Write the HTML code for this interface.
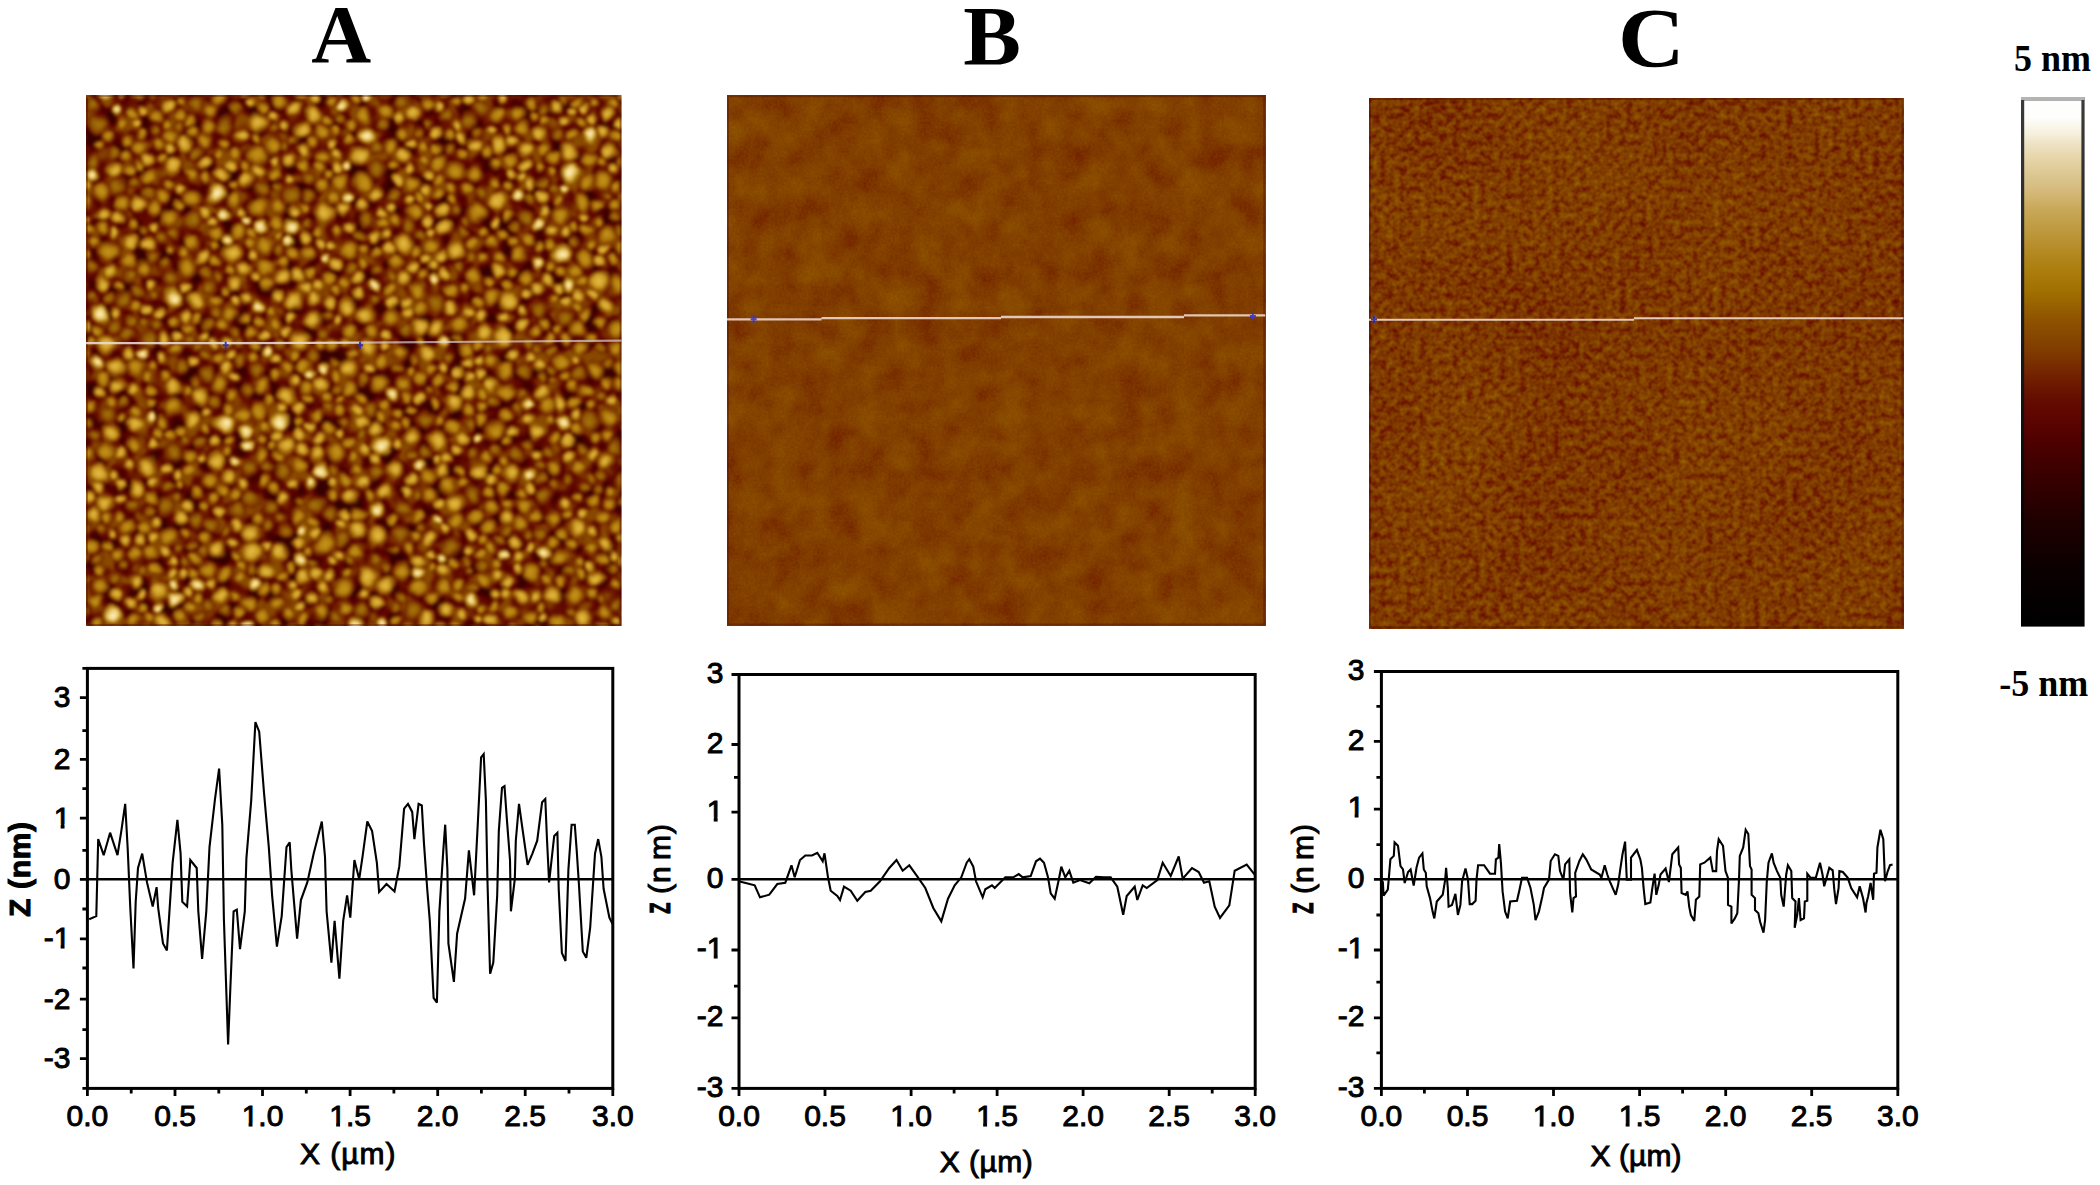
<!DOCTYPE html>
<html lang="en"><head><meta charset="utf-8"><title>AFM height images and section profiles</title>
<style>
html,body{margin:0;padding:0;background:#fff;}
body{width:2100px;height:1185px;overflow:hidden;position:relative;}
svg{position:absolute;left:0;top:0;display:block;}
.ser{font-family:"Liberation Serif",serif;font-weight:bold;fill:#000;}
.san{font-family:"Liberation Sans",sans-serif;fill:#000;stroke:#000;}
</style></head><body>
<svg width="2100" height="1185" viewBox="0 0 2100 1185">
<defs>
<linearGradient id="cb" x1="0" y1="0" x2="0" y2="1">
<stop offset="0.000" stop-color="#ffffff"/>
<stop offset="0.035" stop-color="#fefefc"/>
<stop offset="0.067" stop-color="#f6efdc"/>
<stop offset="0.082" stop-color="#efe4c8"/>
<stop offset="0.114" stop-color="#e6d4a8"/>
<stop offset="0.146" stop-color="#dcc690"/>
<stop offset="0.178" stop-color="#d4b878"/>
<stop offset="0.210" stop-color="#c8a858"/>
<stop offset="0.242" stop-color="#c09c44"/>
<stop offset="0.274" stop-color="#b89030"/>
<stop offset="0.306" stop-color="#b08418"/>
<stop offset="0.338" stop-color="#a87a08"/>
<stop offset="0.365" stop-color="#a07000"/>
<stop offset="0.422" stop-color="#8e5200"/>
<stop offset="0.478" stop-color="#803c00"/>
<stop offset="0.500" stop-color="#7a3000"/>
<stop offset="0.535" stop-color="#701c00"/>
<stop offset="0.573" stop-color="#640c00"/>
<stop offset="0.611" stop-color="#5c0400"/>
<stop offset="0.648" stop-color="#500000"/>
<stop offset="0.700" stop-color="#3e0000"/>
<stop offset="0.800" stop-color="#200000"/>
<stop offset="0.900" stop-color="#0a0000"/>
<stop offset="1.000" stop-color="#000000"/>
</linearGradient>
<linearGradient id="cbb" gradientUnits="userSpaceOnUse" x1="0" y1="97" x2="0" y2="627"><stop offset="0" stop-color="#3c3c3c"/><stop offset="0.45" stop-color="#1e1a1a"/><stop offset="0.8" stop-color="#060404"/><stop offset="1" stop-color="#000"/></linearGradient>
<filter id="fb" x="0" y="0" width="1" height="1" color-interpolation-filters="sRGB">
<feTurbulence type="fractalNoise" baseFrequency="0.035" numOctaves="4" seed="4"/>
<feColorMatrix type="matrix" values="0.115 0 0 0 0.473 0.115 0 0 0 0.473 0.115 0 0 0 0.473 0 0 0 0 1" result="n0"/>
<feTurbulence type="fractalNoise" baseFrequency="0.45" numOctaves="1" seed="3"/>
<feColorMatrix type="matrix" values="0.050 0 0 0 0.475 0.050 0 0 0 0.475 0.050 0 0 0 0.475 0 0 0 0 1" result="n1"/>
<feComposite in="n0" in2="n1" operator="arithmetic" k1="0" k2="1" k3="1" k4="-0.5"/>
<feComponentTransfer><feFuncR type="table" tableValues="0.000 0.006 0.012 0.018 0.025 0.031 0.037 0.047 0.061 0.074 0.088 0.101 0.115 0.129 0.148 0.166 0.184 0.203 0.221 0.239 0.260 0.281 0.303 0.323 0.343 0.362 0.375 0.388 0.405 0.425 0.443 0.461 0.478 0.495 0.511 0.526 0.542 0.557 0.576 0.596 0.615 0.634 0.652 0.669 0.684 0.699 0.714 0.730 0.745 0.760 0.776 0.794 0.817 0.837 0.853 0.869 0.888 0.907 0.924 0.944 0.969 0.984 0.996 0.998 1.000"/><feFuncG type="table" tableValues="0.000 0.000 0.000 0.000 0.000 0.000 0.000 0.000 0.000 0.000 0.000 0.000 0.000 0.000 0.000 0.000 0.000 0.000 0.000 0.000 0.000 0.000 0.000 0.003 0.010 0.017 0.030 0.043 0.064 0.090 0.118 0.153 0.188 0.222 0.250 0.274 0.298 0.322 0.354 0.386 0.419 0.447 0.470 0.491 0.510 0.531 0.554 0.577 0.600 0.623 0.646 0.672 0.703 0.732 0.759 0.786 0.812 0.840 0.871 0.905 0.946 0.974 0.996 0.998 1.000"/><feFuncB type="table" tableValues="0.000 0.000 0.000 0.000 0.000 0.000 0.000 0.000 0.000 0.000 0.000 0.000 0.000 0.000 0.000 0.000 0.000 0.000 0.000 0.000 0.000 0.000 0.000 0.000 0.000 0.000 0.000 0.000 0.000 0.000 0.000 0.000 0.000 0.000 0.000 0.000 0.000 0.000 0.000 0.000 0.000 0.007 0.025 0.051 0.081 0.121 0.167 0.209 0.247 0.285 0.324 0.372 0.433 0.489 0.535 0.581 0.626 0.677 0.738 0.805 0.880 0.942 0.989 0.995 1.000"/></feComponentTransfer>
</filter>
<filter id="fc" x="0" y="0" width="1" height="1" color-interpolation-filters="sRGB">
<feTurbulence type="fractalNoise" baseFrequency="0.15" numOctaves="2" seed="11"/>
<feColorMatrix type="matrix" values="0.220 0 0 0 0.409 0.220 0 0 0 0.409 0.220 0 0 0 0.409 0 0 0 0 1" result="n0"/>
<feTurbulence type="fractalNoise" baseFrequency="0.008" numOctaves="2" seed="5"/>
<feColorMatrix type="matrix" values="0.050 0 0 0 0.475 0.050 0 0 0 0.475 0.050 0 0 0 0.475 0 0 0 0 1" result="n1"/>
<feComposite in="n0" in2="n1" operator="arithmetic" k1="0" k2="1" k3="1" k4="-0.5"/>
<feComponentTransfer><feFuncR type="table" tableValues="0.000 0.006 0.012 0.018 0.025 0.031 0.037 0.047 0.061 0.074 0.088 0.101 0.115 0.129 0.148 0.166 0.184 0.203 0.221 0.239 0.260 0.281 0.303 0.323 0.343 0.362 0.375 0.388 0.405 0.425 0.443 0.461 0.478 0.495 0.511 0.526 0.542 0.557 0.576 0.596 0.615 0.634 0.652 0.669 0.684 0.699 0.714 0.730 0.745 0.760 0.776 0.794 0.817 0.837 0.853 0.869 0.888 0.907 0.924 0.944 0.969 0.984 0.996 0.998 1.000"/><feFuncG type="table" tableValues="0.000 0.000 0.000 0.000 0.000 0.000 0.000 0.000 0.000 0.000 0.000 0.000 0.000 0.000 0.000 0.000 0.000 0.000 0.000 0.000 0.000 0.000 0.000 0.003 0.010 0.017 0.030 0.043 0.064 0.090 0.118 0.153 0.188 0.222 0.250 0.274 0.298 0.322 0.354 0.386 0.419 0.447 0.470 0.491 0.510 0.531 0.554 0.577 0.600 0.623 0.646 0.672 0.703 0.732 0.759 0.786 0.812 0.840 0.871 0.905 0.946 0.974 0.996 0.998 1.000"/><feFuncB type="table" tableValues="0.000 0.000 0.000 0.000 0.000 0.000 0.000 0.000 0.000 0.000 0.000 0.000 0.000 0.000 0.000 0.000 0.000 0.000 0.000 0.000 0.000 0.000 0.000 0.000 0.000 0.000 0.000 0.000 0.000 0.000 0.000 0.000 0.000 0.000 0.000 0.000 0.000 0.000 0.000 0.000 0.000 0.007 0.025 0.051 0.081 0.121 0.167 0.209 0.247 0.285 0.324 0.372 0.433 0.489 0.535 0.581 0.626 0.677 0.738 0.805 0.880 0.942 0.989 0.995 1.000"/></feComponentTransfer>
</filter>
<radialGradient id="gd"><stop offset="0" stop-color="#a8780c"/><stop offset="0.45" stop-color="#925a04"/><stop offset="0.8" stop-color="#762800" stop-opacity="0.8"/><stop offset="1" stop-color="#762800" stop-opacity="0"/></radialGradient><radialGradient id="gn"><stop offset="0" stop-color="#c8961e"/><stop offset="0.45" stop-color="#b07c0c"/><stop offset="0.8" stop-color="#823e00" stop-opacity="0.8"/><stop offset="1" stop-color="#823e00" stop-opacity="0"/></radialGradient><radialGradient id="gb"><stop offset="0" stop-color="#e8be48"/><stop offset="0.45" stop-color="#cc9c24"/><stop offset="0.8" stop-color="#8e5200" stop-opacity="0.8"/><stop offset="1" stop-color="#8e5200" stop-opacity="0"/></radialGradient><radialGradient id="gw"><stop offset="0" stop-color="#fff6d2"/><stop offset="0.45" stop-color="#ecc864"/><stop offset="0.8" stop-color="#a07000" stop-opacity="0.8"/><stop offset="1" stop-color="#a07000" stop-opacity="0"/></radialGradient>
<filter id="fabg" x="0" y="0" width="1" height="1" color-interpolation-filters="sRGB"><feTurbulence type="fractalNoise" baseFrequency="0.06" numOctaves="2" seed="9"/><feColorMatrix type="matrix" values="2.4 0 0 0 -0.7 2.4 0 0 0 -0.7 2.4 0 0 0 -0.7 0 0 0 0 1"/><feComponentTransfer><feFuncR type="table" tableValues="0.208 0.229 0.252 0.276 0.301 0.325 0.348 0.367 0.382 0.400 0.422 0.444 0.464 0.484 0.504 0.521 0.539"/><feFuncG type="table" tableValues="0.000 0.000 0.000 0.000 0.000 0.004 0.011 0.022 0.037 0.057 0.087 0.120 0.160 0.200 0.238 0.266 0.294"/><feFuncB type="table" tableValues="0.000 0.000 0.000 0.000 0.000 0.000 0.000 0.000 0.000 0.000 0.000 0.000 0.000 0.000 0.000 0.000 0.000"/></feComponentTransfer></filter>
<filter id="fa" filterUnits="userSpaceOnUse" x="66" y="75" width="575.5" height="571" color-interpolation-filters="sRGB"><feTurbulence type="fractalNoise" baseFrequency="0.05" numOctaves="2" seed="5" result="t"/><feDisplacementMap in="SourceGraphic" in2="t" scale="9" xChannelSelector="R" yChannelSelector="G"/><feGaussianBlur stdDeviation="1.7"/></filter>
<clipPath id="ca"><rect x="86" y="95" width="535.5" height="531"/></clipPath>
</defs>
<rect x="0" y="0" width="2100" height="1185" fill="#fff"/>
<text class="ser" x="341.2" y="62.2" font-size="83" text-anchor="middle">A</text>
<text class="ser" transform="translate(992 65.3) scale(1.03 1)" font-size="84" text-anchor="middle">B</text>
<text class="ser" transform="translate(1651.3 67.2) scale(1.1 1)" font-size="84" text-anchor="middle">C</text>
<g clip-path="url(#ca)"><g filter="url(#fa)"><rect x="66" y="75" width="575.5" height="571" fill="#642400" filter="url(#fabg)"/>
<circle cx="499" cy="86" r="8.5" fill="url(#gd)"/><circle cx="211" cy="524" r="8.3" fill="url(#gd)"/><circle cx="376" cy="559" r="7.3" fill="url(#gd)"/><circle cx="361" cy="610" r="9.3" fill="url(#gd)"/><circle cx="525" cy="371" r="9.2" fill="url(#gd)"/><circle cx="393" cy="195" r="8.9" fill="url(#gd)"/><circle cx="200" cy="442" r="8.2" fill="url(#gd)"/><circle cx="307" cy="224" r="6.3" fill="url(#gd)"/><circle cx="240" cy="360" r="7.8" fill="url(#gd)"/><circle cx="451" cy="547" r="11.7" fill="url(#gd)"/><circle cx="479" cy="132" r="7.0" fill="url(#gd)"/><circle cx="412" cy="611" r="11.4" fill="url(#gd)"/><circle cx="98" cy="125" r="11.2" fill="url(#gd)"/><circle cx="625" cy="317" r="6.7" fill="url(#gd)"/><circle cx="382" cy="124" r="6.5" fill="url(#gd)"/><circle cx="350" cy="560" r="6.9" fill="url(#gd)"/><circle cx="543" cy="496" r="10.1" fill="url(#gd)"/><circle cx="473" cy="453" r="7.4" fill="url(#gd)"/><circle cx="165" cy="507" r="11.4" fill="url(#gd)"/><circle cx="249" cy="467" r="11.1" fill="url(#gd)"/><circle cx="282" cy="471" r="10.4" fill="url(#gd)"/><circle cx="168" cy="487" r="6.4" fill="url(#gd)"/><circle cx="425" cy="419" r="11.0" fill="url(#gd)"/><circle cx="322" cy="333" r="7.7" fill="url(#gd)"/><circle cx="540" cy="310" r="10.4" fill="url(#gd)"/><circle cx="78" cy="299" r="8.4" fill="url(#gd)"/><circle cx="378" cy="169" r="11.0" fill="url(#gd)"/><circle cx="225" cy="126" r="11.0" fill="url(#gd)"/><circle cx="316" cy="505" r="10.7" fill="url(#gd)"/><circle cx="107" cy="414" r="11.4" fill="url(#gd)"/><circle cx="196" cy="104" r="10.1" fill="url(#gd)"/><circle cx="445" cy="116" r="8.1" fill="url(#gd)"/><circle cx="148" cy="340" r="11.1" fill="url(#gd)"/><circle cx="543" cy="109" r="7.5" fill="url(#gd)"/><circle cx="565" cy="319" r="9.9" fill="url(#gd)"/><circle cx="472" cy="495" r="10.3" fill="url(#gd)"/><circle cx="528" cy="344" r="8.1" fill="url(#gd)"/><circle cx="469" cy="571" r="6.3" fill="url(#gd)"/><circle cx="529" cy="444" r="7.7" fill="url(#gd)"/><circle cx="518" cy="407" r="6.4" fill="url(#gd)"/><circle cx="449" cy="150" r="7.5" fill="url(#gd)"/><circle cx="124" cy="300" r="9.9" fill="url(#gd)"/><circle cx="462" cy="232" r="7.2" fill="url(#gd)"/><circle cx="280" cy="344" r="7.9" fill="url(#gd)"/><circle cx="350" cy="267" r="6.8" fill="url(#gd)"/><circle cx="375" cy="472" r="9.2" fill="url(#gd)"/><circle cx="456" cy="210" r="7.1" fill="url(#gd)"/><circle cx="418" cy="132" r="7.2" fill="url(#gd)"/><circle cx="93" cy="162" r="8.2" fill="url(#gd)"/><circle cx="331" cy="514" r="9.5" fill="url(#gd)"/><circle cx="525" cy="217" r="9.2" fill="url(#gd)"/><circle cx="615" cy="447" r="10.7" fill="url(#gd)"/><circle cx="285" cy="145" r="6.3" fill="url(#gd)"/><circle cx="117" cy="186" r="10.6" fill="url(#gd)"/><circle cx="375" cy="300" r="6.3" fill="url(#gd)"/><circle cx="308" cy="177" r="8.2" fill="url(#gd)"/><circle cx="292" cy="196" r="10.9" fill="url(#gd)"/><circle cx="218" cy="277" r="7.5" fill="url(#gd)"/><circle cx="344" cy="423" r="7.5" fill="url(#gd)"/><circle cx="182" cy="366" r="9.0" fill="url(#gd)"/><circle cx="235" cy="109" r="8.8" fill="url(#gd)"/><circle cx="435" cy="302" r="11.5" fill="url(#gd)"/><circle cx="84" cy="582" r="7.9" fill="url(#gd)"/><circle cx="251" cy="498" r="11.4" fill="url(#gd)"/><circle cx="383" cy="90" r="10.6" fill="url(#gd)"/><circle cx="261" cy="95" r="6.3" fill="url(#gd)"/><circle cx="424" cy="452" r="7.9" fill="url(#gd)"/><circle cx="193" cy="221" r="11.1" fill="url(#gd)"/><circle cx="80" cy="139" r="6.8" fill="url(#gd)"/><circle cx="391" cy="634" r="9.5" fill="url(#gd)"/><circle cx="247" cy="390" r="8.4" fill="url(#gd)"/><circle cx="334" cy="365" r="6.9" fill="url(#gd)"/><circle cx="488" cy="348" r="6.9" fill="url(#gd)"/><circle cx="617" cy="604" r="7.2" fill="url(#gd)"/><circle cx="569" cy="481" r="7.1" fill="url(#gd)"/><circle cx="475" cy="633" r="9.0" fill="url(#gd)"/><circle cx="529" cy="536" r="6.3" fill="url(#gd)"/><circle cx="329" cy="407" r="7.0" fill="url(#gd)"/><circle cx="370" cy="410" r="10.0" fill="url(#gd)"/><circle cx="557" cy="134" r="8.0" fill="url(#gd)"/><circle cx="88" cy="422" r="7.6" fill="url(#gd)"/><circle cx="196" cy="520" r="10.1" fill="url(#gd)"/><circle cx="153" cy="94" r="6.8" fill="url(#gd)"/><circle cx="403" cy="508" r="11.1" fill="url(#gd)"/><circle cx="360" cy="235" r="7.9" fill="url(#gd)"/><circle cx="237" cy="510" r="11.2" fill="url(#gd)"/><circle cx="124" cy="565" r="6.4" fill="url(#gd)"/><circle cx="192" cy="546" r="7.3" fill="url(#gd)"/><circle cx="127" cy="334" r="9.1" fill="url(#gd)"/><circle cx="549" cy="451" r="7.1" fill="url(#gd)"/><circle cx="554" cy="381" r="6.3" fill="url(#gd)"/><circle cx="552" cy="351" r="6.9" fill="url(#gd)"/><circle cx="129" cy="276" r="8.9" fill="url(#gd)"/><circle cx="600" cy="395" r="7.0" fill="url(#gd)"/><circle cx="225" cy="532" r="6.5" fill="url(#gd)"/><circle cx="493" cy="401" r="8.1" fill="url(#gd)"/><circle cx="602" cy="599" r="6.3" fill="url(#gd)"/><circle cx="543" cy="183" r="6.8" fill="url(#gd)"/><circle cx="590" cy="421" r="12.2" fill="url(#gd)"/><circle cx="257" cy="370" r="9.5" fill="url(#gd)"/><circle cx="115" cy="577" r="7.9" fill="url(#gd)"/><circle cx="468" cy="424" r="6.9" fill="url(#gd)"/><circle cx="148" cy="631" r="8.9" fill="url(#gd)"/><circle cx="285" cy="530" r="9.1" fill="url(#gd)"/><circle cx="132" cy="506" r="8.5" fill="url(#gd)"/><circle cx="239" cy="344" r="8.0" fill="url(#gd)"/><circle cx="313" cy="563" r="6.3" fill="url(#gd)"/><circle cx="517" cy="455" r="8.6" fill="url(#gd)"/><circle cx="79" cy="265" r="6.4" fill="url(#gd)"/><circle cx="506" cy="530" r="7.7" fill="url(#gd)"/><circle cx="78" cy="164" r="7.4" fill="url(#gd)"/><circle cx="424" cy="88" r="11.7" fill="url(#gd)"/><circle cx="366" cy="219" r="8.5" fill="url(#gd)"/><circle cx="225" cy="610" r="7.1" fill="url(#gd)"/><circle cx="82" cy="529" r="10.5" fill="url(#gd)"/><circle cx="540" cy="535" r="7.2" fill="url(#gd)"/><circle cx="574" cy="242" r="7.0" fill="url(#gd)"/><circle cx="209" cy="606" r="9.1" fill="url(#gd)"/><circle cx="153" cy="257" r="7.7" fill="url(#gd)"/><circle cx="180" cy="547" r="6.3" fill="url(#gd)"/><circle cx="460" cy="267" r="6.8" fill="url(#gd)"/><circle cx="76" cy="123" r="9.1" fill="url(#gd)"/><circle cx="274" cy="129" r="6.5" fill="url(#gd)"/><circle cx="114" cy="152" r="8.1" fill="url(#gd)"/><circle cx="401" cy="102" r="9.0" fill="url(#gd)"/><circle cx="206" cy="374" r="9.1" fill="url(#gd)"/><circle cx="137" cy="291" r="8.9" fill="url(#gd)"/><circle cx="597" cy="489" r="7.4" fill="url(#gd)"/><circle cx="616" cy="217" r="6.7" fill="url(#gd)"/><circle cx="313" cy="87" r="6.4" fill="url(#gd)"/><circle cx="173" cy="453" r="11.9" fill="url(#gd)"/><circle cx="270" cy="507" r="10.2" fill="url(#gd)"/><circle cx="393" cy="549" r="6.3" fill="url(#gd)"/><circle cx="100" cy="634" r="9.2" fill="url(#gd)"/><circle cx="495" cy="450" r="7.4" fill="url(#gd)"/><circle cx="624" cy="462" r="7.7" fill="url(#gd)"/><circle cx="340" cy="119" r="6.9" fill="url(#gd)"/><circle cx="409" cy="226" r="8.6" fill="url(#gd)"/><circle cx="313" cy="356" r="8.4" fill="url(#gd)"/><circle cx="77" cy="510" r="8.0" fill="url(#gd)"/><circle cx="97" cy="559" r="6.3" fill="url(#gd)"/><circle cx="412" cy="454" r="7.1" fill="url(#gd)"/><circle cx="631" cy="180" r="10.8" fill="url(#gd)"/><circle cx="92" cy="106" r="8.6" fill="url(#gd)"/><circle cx="189" cy="340" r="7.2" fill="url(#gd)"/><circle cx="469" cy="121" r="9.6" fill="url(#gd)"/><circle cx="94" cy="435" r="7.0" fill="url(#gd)"/><circle cx="155" cy="131" r="7.0" fill="url(#gd)"/><circle cx="101" cy="528" r="7.1" fill="url(#gd)"/><circle cx="123" cy="402" r="6.6" fill="url(#gd)"/><circle cx="134" cy="184" r="8.0" fill="url(#gd)"/><circle cx="114" cy="325" r="9.8" fill="url(#gd)"/><circle cx="262" cy="189" r="9.3" fill="url(#gd)"/><circle cx="429" cy="123" r="6.6" fill="url(#gd)"/><circle cx="343" cy="539" r="9.9" fill="url(#gd)"/><circle cx="171" cy="279" r="10.4" fill="url(#gd)"/><circle cx="591" cy="478" r="6.4" fill="url(#gd)"/><circle cx="91" cy="268" r="8.5" fill="url(#gd)"/><circle cx="581" cy="449" r="6.4" fill="url(#gd)"/><circle cx="578" cy="373" r="9.2" fill="url(#gd)"/><circle cx="401" cy="534" r="11.8" fill="url(#gd)"/><circle cx="402" cy="598" r="7.2" fill="url(#gd)"/><circle cx="378" cy="270" r="7.1" fill="url(#gd)"/><circle cx="185" cy="563" r="6.4" fill="url(#gd)"/><circle cx="144" cy="323" r="7.3" fill="url(#gd)"/><circle cx="175" cy="233" r="7.3" fill="url(#gd)"/><circle cx="602" cy="476" r="7.3" fill="url(#gd)"/><circle cx="208" cy="325" r="8.6" fill="url(#gd)"/><circle cx="481" cy="193" r="8.1" fill="url(#gd)"/><circle cx="482" cy="565" r="7.5" fill="url(#gd)"/><circle cx="180" cy="127" r="6.7" fill="url(#gd)"/><circle cx="78" cy="488" r="8.1" fill="url(#gd)"/><circle cx="131" cy="321" r="7.3" fill="url(#gd)"/><circle cx="90" cy="295" r="6.4" fill="url(#gd)"/><circle cx="471" cy="257" r="7.4" fill="url(#gd)"/><circle cx="267" cy="525" r="6.7" fill="url(#gd)"/><circle cx="513" cy="87" r="8.8" fill="url(#gd)"/><circle cx="206" cy="355" r="6.4" fill="url(#gd)"/><circle cx="529" cy="198" r="6.6" fill="url(#gd)"/><circle cx="77" cy="391" r="9.5" fill="url(#gd)"/><circle cx="195" cy="382" r="6.8" fill="url(#gd)"/><circle cx="364" cy="379" r="7.8" fill="url(#gd)"/><circle cx="627" cy="145" r="8.6" fill="url(#gd)"/><circle cx="300" cy="502" r="6.3" fill="url(#gd)"/><circle cx="144" cy="571" r="6.7" fill="url(#gd)"/><circle cx="162" cy="237" r="8.6" fill="url(#gd)"/><circle cx="500" cy="635" r="6.8" fill="url(#gd)"/><circle cx="280" cy="517" r="6.7" fill="url(#gd)"/><circle cx="600" cy="349" r="7.4" fill="url(#gd)"/><circle cx="569" cy="573" r="7.5" fill="url(#gd)"/><circle cx="466" cy="221" r="6.7" fill="url(#gd)"/><circle cx="375" cy="148" r="8.4" fill="url(#gd)"/><circle cx="571" cy="612" r="6.4" fill="url(#gd)"/><circle cx="460" cy="86" r="11.0" fill="url(#gd)"/><circle cx="340" cy="92" r="6.7" fill="url(#gd)"/><circle cx="416" cy="496" r="6.3" fill="url(#gd)"/><circle cx="176" cy="498" r="6.4" fill="url(#gd)"/><circle cx="199" cy="346" r="6.5" fill="url(#gd)"/><circle cx="629" cy="354" r="8.1" fill="url(#gd)"/><circle cx="553" cy="484" r="6.8" fill="url(#gd)"/><circle cx="520" cy="394" r="7.0" fill="url(#gd)"/><circle cx="405" cy="331" r="7.7" fill="url(#gd)"/><circle cx="421" cy="528" r="6.6" fill="url(#gd)"/><circle cx="110" cy="299" r="7.7" fill="url(#gd)"/><circle cx="199" cy="617" r="7.1" fill="url(#gd)"/><circle cx="206" cy="273" r="8.2" fill="url(#gd)"/><circle cx="154" cy="294" r="6.4" fill="url(#gd)"/><circle cx="543" cy="378" r="6.3" fill="url(#gd)"/><circle cx="544" cy="564" r="6.3" fill="url(#gd)"/><circle cx="164" cy="264" r="6.7" fill="url(#gd)"/><circle cx="612" cy="568" r="7.4" fill="url(#gd)"/><circle cx="215" cy="401" r="7.1" fill="url(#gd)"/><circle cx="156" cy="326" r="7.9" fill="url(#gd)"/><circle cx="619" cy="231" r="6.9" fill="url(#gd)"/><circle cx="208" cy="287" r="8.4" fill="url(#gd)"/><circle cx="361" cy="435" r="7.6" fill="url(#gd)"/><circle cx="429" cy="390" r="6.3" fill="url(#gd)"/><circle cx="538" cy="349" r="6.4" fill="url(#gd)"/><circle cx="216" cy="313" r="7.3" fill="url(#gd)"/><circle cx="394" cy="606" r="6.5" fill="url(#gd)"/><circle cx="449" cy="357" r="6.5" fill="url(#gd)"/><circle cx="233" cy="332" r="6.8" fill="url(#gd)"/><circle cx="397" cy="368" r="6.5" fill="url(#gd)"/><circle cx="609" cy="363" r="7.2" fill="url(#gd)"/><circle cx="329" cy="599" r="6.3" fill="url(#gd)"/><circle cx="76" cy="573" r="6.9" fill="url(#gd)"/><circle cx="541" cy="478" r="6.9" fill="url(#gd)"/><circle cx="336" cy="617" r="8.0" fill="url(#gd)"/><circle cx="195" cy="153" r="7.8" fill="url(#gd)"/><circle cx="309" cy="195" r="8.5" fill="url(#gd)"/><circle cx="384" cy="567" r="7.2" fill="url(#gd)"/><circle cx="414" cy="360" r="7.1" fill="url(#gd)"/><circle cx="294" cy="140" r="6.3" fill="url(#gd)"/><circle cx="204" cy="551" r="6.9" fill="url(#gd)"/><circle cx="292" cy="86" r="7.5" fill="url(#gd)"/><circle cx="516" cy="227" r="6.5" fill="url(#gd)"/><circle cx="472" cy="588" r="6.8" fill="url(#gd)"/><circle cx="584" cy="486" r="6.3" fill="url(#gd)"/><circle cx="149" cy="512" r="6.4" fill="url(#gd)"/><circle cx="420" cy="234" r="6.9" fill="url(#gd)"/><circle cx="186" cy="439" r="6.3" fill="url(#gd)"/><circle cx="467" cy="561" r="6.8" fill="url(#gd)"/><circle cx="481" cy="109" r="9.8" fill="url(#gd)"/><circle cx="564" cy="99" r="6.5" fill="url(#gd)"/><circle cx="280" cy="250" r="7.0" fill="url(#gd)"/><circle cx="253" cy="568" r="7.6" fill="url(#gd)"/><circle cx="539" cy="466" r="6.9" fill="url(#gd)"/><circle cx="336" cy="388" r="6.3" fill="url(#gd)"/><circle cx="606" cy="195" r="6.4" fill="url(#gd)"/><circle cx="326" cy="315" r="6.3" fill="url(#gd)"/><circle cx="552" cy="370" r="6.4" fill="url(#gd)"/><circle cx="149" cy="194" r="8.1" fill="url(#gd)"/><circle cx="500" cy="540" r="6.4" fill="url(#gd)"/><circle cx="391" cy="275" r="7.1" fill="url(#gd)"/><circle cx="554" cy="189" r="6.8" fill="url(#gd)"/><circle cx="278" cy="188" r="7.0" fill="url(#gd)"/><circle cx="621" cy="411" r="6.6" fill="url(#gd)"/><circle cx="267" cy="468" r="7.3" fill="url(#gd)"/><circle cx="335" cy="471" r="7.2" fill="url(#gd)"/><circle cx="458" cy="339" r="6.6" fill="url(#gd)"/><circle cx="142" cy="230" r="6.5" fill="url(#gd)"/><circle cx="151" cy="552" r="10.5" fill="url(#gn)"/><circle cx="218" cy="358" r="8.5" fill="url(#gn)"/><circle cx="92" cy="546" r="8.4" fill="url(#gn)"/><circle cx="477" cy="211" r="11.8" fill="url(#gn)"/><circle cx="577" cy="102" r="6.3" fill="url(#gn)"/><circle cx="196" cy="318" r="6.3" fill="url(#gn)"/><circle cx="143" cy="268" r="10.3" fill="url(#gn)"/><circle cx="402" cy="571" r="11.1" fill="url(#gn)"/><circle cx="451" cy="291" r="8.5" fill="url(#gn)"/><circle cx="358" cy="514" r="9.0" fill="url(#gn)"/><circle cx="294" cy="355" r="6.3" fill="url(#gn)"/><circle cx="532" cy="573" r="10.4" fill="url(#gn)"/><circle cx="345" cy="282" r="7.9" fill="url(#gn)"/><circle cx="331" cy="100" r="7.3" fill="url(#gn)"/><circle cx="174" cy="407" r="11.2" fill="url(#gn)"/><circle cx="520" cy="524" r="10.9" fill="url(#gn)"/><circle cx="423" cy="275" r="6.5" fill="url(#gn)"/><circle cx="165" cy="376" r="6.9" fill="url(#gn)"/><circle cx="255" cy="346" r="6.3" fill="url(#gn)"/><circle cx="88" cy="95" r="6.8" fill="url(#gn)"/><circle cx="475" cy="173" r="10.2" fill="url(#gn)"/><circle cx="453" cy="385" r="7.2" fill="url(#gn)"/><circle cx="618" cy="525" r="8.9" fill="url(#gn)"/><circle cx="396" cy="262" r="9.7" fill="url(#gn)"/><circle cx="109" cy="250" r="12.0" fill="url(#gn)"/><circle cx="248" cy="603" r="10.4" fill="url(#gn)"/><circle cx="558" cy="622" r="10.1" fill="url(#gn)"/><circle cx="190" cy="456" r="8.4" fill="url(#gn)"/><circle cx="560" cy="581" r="6.3" fill="url(#gn)"/><circle cx="188" cy="266" r="12.1" fill="url(#gn)"/><circle cx="511" cy="272" r="7.2" fill="url(#gn)"/><circle cx="582" cy="202" r="10.5" fill="url(#gn)"/><circle cx="409" cy="548" r="8.0" fill="url(#gn)"/><circle cx="265" cy="245" r="11.3" fill="url(#gn)"/><circle cx="151" cy="389" r="6.6" fill="url(#gn)"/><circle cx="418" cy="516" r="8.1" fill="url(#gn)"/><circle cx="224" cy="576" r="9.2" fill="url(#gn)"/><circle cx="590" cy="337" r="7.5" fill="url(#gn)"/><circle cx="448" cy="136" r="6.7" fill="url(#gn)"/><circle cx="169" cy="218" r="10.4" fill="url(#gn)"/><circle cx="615" cy="586" r="7.6" fill="url(#gn)"/><circle cx="622" cy="248" r="9.4" fill="url(#gn)"/><circle cx="620" cy="384" r="10.0" fill="url(#gn)"/><circle cx="293" cy="254" r="7.8" fill="url(#gn)"/><circle cx="398" cy="413" r="7.3" fill="url(#gn)"/><circle cx="429" cy="245" r="10.7" fill="url(#gn)"/><circle cx="603" cy="180" r="10.6" fill="url(#gn)"/><circle cx="135" cy="368" r="11.6" fill="url(#gn)"/><circle cx="239" cy="577" r="6.8" fill="url(#gn)"/><circle cx="175" cy="323" r="6.9" fill="url(#gn)"/><circle cx="381" cy="383" r="11.1" fill="url(#gn)"/><circle cx="219" cy="98" r="9.8" fill="url(#gn)"/><circle cx="307" cy="399" r="6.5" fill="url(#gn)"/><circle cx="299" cy="422" r="7.3" fill="url(#gn)"/><circle cx="80" cy="376" r="8.8" fill="url(#gn)"/><circle cx="229" cy="441" r="6.4" fill="url(#gn)"/><circle cx="497" cy="114" r="10.0" fill="url(#gn)"/><circle cx="474" cy="277" r="8.9" fill="url(#gn)"/><circle cx="257" cy="155" r="11.5" fill="url(#gn)"/><circle cx="214" cy="498" r="6.3" fill="url(#gn)"/><circle cx="191" cy="242" r="9.1" fill="url(#gn)"/><circle cx="228" cy="408" r="7.4" fill="url(#gn)"/><circle cx="456" cy="521" r="10.9" fill="url(#gn)"/><circle cx="274" cy="376" r="6.3" fill="url(#gn)"/><circle cx="298" cy="516" r="10.0" fill="url(#gn)"/><circle cx="349" cy="442" r="8.1" fill="url(#gn)"/><circle cx="189" cy="87" r="7.5" fill="url(#gn)"/><circle cx="420" cy="378" r="8.0" fill="url(#gn)"/><circle cx="484" cy="580" r="10.4" fill="url(#gn)"/><circle cx="345" cy="342" r="6.4" fill="url(#gn)"/><circle cx="273" cy="447" r="6.3" fill="url(#gn)"/><circle cx="299" cy="465" r="9.5" fill="url(#gn)"/><circle cx="192" cy="199" r="11.4" fill="url(#gn)"/><circle cx="415" cy="213" r="9.2" fill="url(#gn)"/><circle cx="259" cy="207" r="11.9" fill="url(#gn)"/><circle cx="576" cy="428" r="7.7" fill="url(#gn)"/><circle cx="181" cy="430" r="6.9" fill="url(#gn)"/><circle cx="617" cy="329" r="11.6" fill="url(#gn)"/><circle cx="481" cy="419" r="7.4" fill="url(#gn)"/><circle cx="210" cy="481" r="10.2" fill="url(#gn)"/><circle cx="350" cy="140" r="7.0" fill="url(#gn)"/><circle cx="529" cy="616" r="9.6" fill="url(#gn)"/><circle cx="205" cy="537" r="8.6" fill="url(#gn)"/><circle cx="259" cy="412" r="11.5" fill="url(#gn)"/><circle cx="584" cy="93" r="6.8" fill="url(#gn)"/><circle cx="141" cy="135" r="6.3" fill="url(#gn)"/><circle cx="430" cy="495" r="10.0" fill="url(#gn)"/><circle cx="272" cy="312" r="7.1" fill="url(#gn)"/><circle cx="322" cy="156" r="8.2" fill="url(#gn)"/><circle cx="483" cy="258" r="6.8" fill="url(#gn)"/><circle cx="245" cy="319" r="7.4" fill="url(#gn)"/><circle cx="511" cy="612" r="9.4" fill="url(#gn)"/><circle cx="134" cy="445" r="8.5" fill="url(#gn)"/><circle cx="625" cy="481" r="11.0" fill="url(#gn)"/><circle cx="538" cy="246" r="6.9" fill="url(#gn)"/><circle cx="492" cy="361" r="9.0" fill="url(#gn)"/><circle cx="342" cy="588" r="11.7" fill="url(#gn)"/><circle cx="277" cy="604" r="9.7" fill="url(#gn)"/><circle cx="224" cy="144" r="7.4" fill="url(#gn)"/><circle cx="116" cy="554" r="9.7" fill="url(#gn)"/><circle cx="630" cy="226" r="7.1" fill="url(#gn)"/><circle cx="491" cy="509" r="8.9" fill="url(#gn)"/><circle cx="549" cy="338" r="7.1" fill="url(#gn)"/><circle cx="390" cy="288" r="8.2" fill="url(#gn)"/><circle cx="575" cy="595" r="11.1" fill="url(#gn)"/><circle cx="460" cy="324" r="10.6" fill="url(#gn)"/><circle cx="346" cy="479" r="8.8" fill="url(#gn)"/><circle cx="148" cy="618" r="7.3" fill="url(#gn)"/><circle cx="553" cy="518" r="10.0" fill="url(#gn)"/><circle cx="573" cy="385" r="7.2" fill="url(#gn)"/><circle cx="412" cy="185" r="11.3" fill="url(#gn)"/><circle cx="454" cy="628" r="7.9" fill="url(#gn)"/><circle cx="410" cy="371" r="6.3" fill="url(#gn)"/><circle cx="504" cy="460" r="6.4" fill="url(#gn)"/><circle cx="252" cy="233" r="6.4" fill="url(#gn)"/><circle cx="595" cy="437" r="7.3" fill="url(#gn)"/><circle cx="453" cy="427" r="9.0" fill="url(#gn)"/><circle cx="215" cy="234" r="9.0" fill="url(#gn)"/><circle cx="456" cy="102" r="7.7" fill="url(#gn)"/><circle cx="455" cy="171" r="11.6" fill="url(#gn)"/><circle cx="155" cy="569" r="7.2" fill="url(#gn)"/><circle cx="99" cy="146" r="6.8" fill="url(#gn)"/><circle cx="585" cy="258" r="11.3" fill="url(#gn)"/><circle cx="364" cy="116" r="9.9" fill="url(#gn)"/><circle cx="332" cy="345" r="8.8" fill="url(#gn)"/><circle cx="591" cy="548" r="6.9" fill="url(#gn)"/><circle cx="439" cy="381" r="7.4" fill="url(#gn)"/><circle cx="83" cy="611" r="7.7" fill="url(#gn)"/><circle cx="230" cy="314" r="9.4" fill="url(#gn)"/><circle cx="373" cy="332" r="8.8" fill="url(#gn)"/><circle cx="119" cy="518" r="6.4" fill="url(#gn)"/><circle cx="491" cy="296" r="10.0" fill="url(#gn)"/><circle cx="589" cy="159" r="10.2" fill="url(#gn)"/><circle cx="321" cy="612" r="9.4" fill="url(#gn)"/><circle cx="581" cy="348" r="8.4" fill="url(#gn)"/><circle cx="307" cy="635" r="10.7" fill="url(#gn)"/><circle cx="400" cy="352" r="9.7" fill="url(#gn)"/><circle cx="526" cy="87" r="6.9" fill="url(#gn)"/><circle cx="158" cy="144" r="7.7" fill="url(#gn)"/><circle cx="549" cy="420" r="6.4" fill="url(#gn)"/><circle cx="395" cy="426" r="6.5" fill="url(#gn)"/><circle cx="553" cy="158" r="8.5" fill="url(#gn)"/><circle cx="262" cy="616" r="10.3" fill="url(#gn)"/><circle cx="198" cy="599" r="6.3" fill="url(#gn)"/><circle cx="439" cy="193" r="7.0" fill="url(#gn)"/><circle cx="382" cy="361" r="8.7" fill="url(#gn)"/><circle cx="559" cy="200" r="6.5" fill="url(#gn)"/><circle cx="77" cy="473" r="7.7" fill="url(#gn)"/><circle cx="353" cy="457" r="6.3" fill="url(#gn)"/><circle cx="204" cy="141" r="8.9" fill="url(#gn)"/><circle cx="382" cy="224" r="7.3" fill="url(#gn)"/><circle cx="193" cy="574" r="7.3" fill="url(#gn)"/><circle cx="302" cy="94" r="7.0" fill="url(#gn)"/><circle cx="539" cy="168" r="6.4" fill="url(#gn)"/><circle cx="593" cy="501" r="8.1" fill="url(#gn)"/><circle cx="329" cy="279" r="8.2" fill="url(#gn)"/><circle cx="424" cy="159" r="6.5" fill="url(#gn)"/><circle cx="559" cy="558" r="10.7" fill="url(#gn)"/><circle cx="143" cy="608" r="6.3" fill="url(#gn)"/><circle cx="281" cy="576" r="6.8" fill="url(#gn)"/><circle cx="274" cy="324" r="6.5" fill="url(#gn)"/><circle cx="192" cy="175" r="8.0" fill="url(#gn)"/><circle cx="453" cy="563" r="6.6" fill="url(#gn)"/><circle cx="347" cy="609" r="7.6" fill="url(#gn)"/><circle cx="326" cy="544" r="12.0" fill="url(#gn)"/><circle cx="274" cy="174" r="8.5" fill="url(#gn)"/><circle cx="513" cy="241" r="6.9" fill="url(#gn)"/><circle cx="322" cy="185" r="8.5" fill="url(#gn)"/><circle cx="133" cy="114" r="6.9" fill="url(#gn)"/><circle cx="84" cy="353" r="8.5" fill="url(#gn)"/><circle cx="348" cy="331" r="8.6" fill="url(#gn)"/><circle cx="267" cy="284" r="9.4" fill="url(#gn)"/><circle cx="550" cy="244" r="7.2" fill="url(#gn)"/><circle cx="609" cy="418" r="10.7" fill="url(#gn)"/><circle cx="495" cy="164" r="8.4" fill="url(#gn)"/><circle cx="137" cy="306" r="6.6" fill="url(#gn)"/><circle cx="190" cy="121" r="7.3" fill="url(#gn)"/><circle cx="88" cy="454" r="8.6" fill="url(#gn)"/><circle cx="554" cy="468" r="9.9" fill="url(#gn)"/><circle cx="319" cy="167" r="6.3" fill="url(#gn)"/><circle cx="615" cy="348" r="9.0" fill="url(#gn)"/><circle cx="377" cy="252" r="6.7" fill="url(#gn)"/><circle cx="390" cy="147" r="10.0" fill="url(#gn)"/><circle cx="180" cy="116" r="6.7" fill="url(#gn)"/><circle cx="151" cy="403" r="7.4" fill="url(#gn)"/><circle cx="629" cy="580" r="10.8" fill="url(#gn)"/><circle cx="495" cy="430" r="11.8" fill="url(#gn)"/><circle cx="443" cy="587" r="10.6" fill="url(#gn)"/><circle cx="91" cy="406" r="6.8" fill="url(#gn)"/><circle cx="411" cy="630" r="9.7" fill="url(#gn)"/><circle cx="122" cy="124" r="7.3" fill="url(#gn)"/><circle cx="541" cy="608" r="6.3" fill="url(#gn)"/><circle cx="220" cy="384" r="11.3" fill="url(#gn)"/><circle cx="176" cy="349" r="8.2" fill="url(#gn)"/><circle cx="101" cy="192" r="10.2" fill="url(#gn)"/><circle cx="340" cy="182" r="10.9" fill="url(#gn)"/><circle cx="523" cy="127" r="8.3" fill="url(#gn)"/><circle cx="148" cy="177" r="10.0" fill="url(#gn)"/><circle cx="289" cy="614" r="7.4" fill="url(#gn)"/><circle cx="594" cy="104" r="6.3" fill="url(#gn)"/><circle cx="561" cy="216" r="12.0" fill="url(#gn)"/><circle cx="628" cy="213" r="8.2" fill="url(#gn)"/><circle cx="492" cy="242" r="7.9" fill="url(#gn)"/><circle cx="318" cy="232" r="6.9" fill="url(#gn)"/><circle cx="396" cy="620" r="6.8" fill="url(#gn)"/><circle cx="190" cy="607" r="7.3" fill="url(#gn)"/><circle cx="418" cy="587" r="10.2" fill="url(#gn)"/><circle cx="586" cy="391" r="8.6" fill="url(#gn)"/><circle cx="587" cy="230" r="8.1" fill="url(#gn)"/><circle cx="579" cy="468" r="8.5" fill="url(#gn)"/><circle cx="522" cy="492" r="6.9" fill="url(#gn)"/><circle cx="602" cy="517" r="8.6" fill="url(#gn)"/><circle cx="154" cy="208" r="9.6" fill="url(#gn)"/><circle cx="423" cy="147" r="6.4" fill="url(#gn)"/><circle cx="264" cy="267" r="10.8" fill="url(#gn)"/><circle cx="490" cy="528" r="9.6" fill="url(#gn)"/><circle cx="631" cy="269" r="9.4" fill="url(#gn)"/><circle cx="158" cy="433" r="8.0" fill="url(#gn)"/><circle cx="79" cy="242" r="11.0" fill="url(#gn)"/><circle cx="163" cy="196" r="8.7" fill="url(#gn)"/><circle cx="233" cy="200" r="9.5" fill="url(#gn)"/><circle cx="189" cy="470" r="7.7" fill="url(#gn)"/><circle cx="275" cy="624" r="7.1" fill="url(#gn)"/><circle cx="597" cy="206" r="7.8" fill="url(#gn)"/><circle cx="162" cy="158" r="6.8" fill="url(#gn)"/><circle cx="120" cy="630" r="6.3" fill="url(#gn)"/><circle cx="178" cy="205" r="6.6" fill="url(#gn)"/><circle cx="144" cy="528" r="9.2" fill="url(#gn)"/><circle cx="216" cy="301" r="8.0" fill="url(#gn)"/><circle cx="468" cy="189" r="7.9" fill="url(#gn)"/><circle cx="333" cy="131" r="6.3" fill="url(#gn)"/><circle cx="272" cy="145" r="10.3" fill="url(#gn)"/><circle cx="505" cy="371" r="10.9" fill="url(#gn)"/><circle cx="392" cy="317" r="11.0" fill="url(#gn)"/><circle cx="553" cy="299" r="6.7" fill="url(#gn)"/><circle cx="606" cy="236" r="10.7" fill="url(#gn)"/><circle cx="596" cy="371" r="10.7" fill="url(#gn)"/><circle cx="197" cy="493" r="6.9" fill="url(#gn)"/><circle cx="536" cy="516" r="8.3" fill="url(#gn)"/><circle cx="572" cy="136" r="6.8" fill="url(#gn)"/><circle cx="250" cy="244" r="6.8" fill="url(#gn)"/><circle cx="276" cy="222" r="7.6" fill="url(#gn)"/><circle cx="303" cy="366" r="8.6" fill="url(#gn)"/><circle cx="465" cy="350" r="8.9" fill="url(#gn)"/><circle cx="321" cy="132" r="8.7" fill="url(#gn)"/><circle cx="517" cy="113" r="8.8" fill="url(#gn)"/><circle cx="334" cy="198" r="7.6" fill="url(#gn)"/><circle cx="95" cy="600" r="8.7" fill="url(#gn)"/><circle cx="518" cy="254" r="9.7" fill="url(#gn)"/><circle cx="580" cy="562" r="6.4" fill="url(#gn)"/><circle cx="428" cy="476" r="9.5" fill="url(#gn)"/><circle cx="128" cy="260" r="9.7" fill="url(#gn)"/><circle cx="336" cy="634" r="9.2" fill="url(#gn)"/><circle cx="317" cy="416" r="8.1" fill="url(#gn)"/><circle cx="483" cy="231" r="6.4" fill="url(#gn)"/><circle cx="509" cy="216" r="7.1" fill="url(#gn)"/><circle cx="459" cy="584" r="6.9" fill="url(#gn)"/><circle cx="536" cy="629" r="6.4" fill="url(#gn)"/><circle cx="264" cy="590" r="8.1" fill="url(#gn)"/><circle cx="585" cy="315" r="8.1" fill="url(#gn)"/><circle cx="554" cy="438" r="7.3" fill="url(#gn)"/><circle cx="440" cy="421" r="7.2" fill="url(#gn)"/><circle cx="619" cy="285" r="11.7" fill="url(#gn)"/><circle cx="77" cy="86" r="7.0" fill="url(#gn)"/><circle cx="122" cy="203" r="9.5" fill="url(#gn)"/><circle cx="350" cy="389" r="10.5" fill="url(#gn)"/><circle cx="97" cy="622" r="7.1" fill="url(#gn)"/><circle cx="421" cy="342" r="6.6" fill="url(#gn)"/><circle cx="170" cy="184" r="7.0" fill="url(#gn)"/><circle cx="265" cy="481" r="6.6" fill="url(#gn)"/><circle cx="111" cy="400" r="7.2" fill="url(#gn)"/><circle cx="363" cy="263" r="6.9" fill="url(#gn)"/><circle cx="448" cy="486" r="10.8" fill="url(#gn)"/><circle cx="411" cy="409" r="6.5" fill="url(#gn)"/><circle cx="108" cy="137" r="7.7" fill="url(#gn)"/><circle cx="168" cy="251" r="6.5" fill="url(#gn)"/><circle cx="209" cy="126" r="9.0" fill="url(#gn)"/><circle cx="255" cy="139" r="6.6" fill="url(#gn)"/><circle cx="168" cy="124" r="6.3" fill="url(#gn)"/><circle cx="77" cy="413" r="6.4" fill="url(#gn)"/><circle cx="574" cy="271" r="8.5" fill="url(#gn)"/><circle cx="546" cy="406" r="9.4" fill="url(#gn)"/><circle cx="483" cy="407" r="6.8" fill="url(#gn)"/><circle cx="551" cy="634" r="7.9" fill="url(#gn)"/><circle cx="181" cy="616" r="8.0" fill="url(#gn)"/><circle cx="357" cy="551" r="7.9" fill="url(#gn)"/><circle cx="530" cy="103" r="8.2" fill="url(#gn)"/><circle cx="600" cy="322" r="6.6" fill="url(#gn)"/><circle cx="313" cy="523" r="7.2" fill="url(#gn)"/><circle cx="126" cy="156" r="7.9" fill="url(#gn)"/><circle cx="528" cy="238" r="7.9" fill="url(#gn)"/><circle cx="338" cy="232" r="6.9" fill="url(#gn)"/><circle cx="77" cy="151" r="7.1" fill="url(#gn)"/><circle cx="629" cy="302" r="6.6" fill="url(#gn)"/><circle cx="157" cy="116" r="9.1" fill="url(#gn)"/><circle cx="478" cy="302" r="6.8" fill="url(#gn)"/><circle cx="307" cy="387" r="8.5" fill="url(#gn)"/><circle cx="506" cy="392" r="9.6" fill="url(#gn)"/><circle cx="625" cy="161" r="9.9" fill="url(#gn)"/><circle cx="185" cy="533" r="6.9" fill="url(#gn)"/><circle cx="102" cy="228" r="7.8" fill="url(#gn)"/><circle cx="207" cy="569" r="10.3" fill="url(#gn)"/><circle cx="613" cy="261" r="7.0" fill="url(#gn)"/><circle cx="524" cy="506" r="8.7" fill="url(#gn)"/><circle cx="552" cy="267" r="7.2" fill="url(#gn)"/><circle cx="452" cy="190" r="7.2" fill="url(#gn)"/><circle cx="101" cy="586" r="9.9" fill="url(#gn)"/><circle cx="168" cy="536" r="11.1" fill="url(#gn)"/><circle cx="336" cy="453" r="11.6" fill="url(#gn)"/><circle cx="444" cy="91" r="7.9" fill="url(#gn)"/><circle cx="363" cy="182" r="11.2" fill="url(#gn)"/><circle cx="460" cy="471" r="6.7" fill="url(#gn)"/><circle cx="405" cy="89" r="8.0" fill="url(#gn)"/><circle cx="513" cy="630" r="8.5" fill="url(#gn)"/><circle cx="331" cy="495" r="8.0" fill="url(#gn)"/><circle cx="482" cy="95" r="8.2" fill="url(#gn)"/><circle cx="269" cy="87" r="7.8" fill="url(#gn)"/><circle cx="526" cy="279" r="9.6" fill="url(#gn)"/><circle cx="476" cy="517" r="9.2" fill="url(#gn)"/><circle cx="612" cy="104" r="6.8" fill="url(#gn)"/><circle cx="242" cy="414" r="9.9" fill="url(#gn)"/><circle cx="434" cy="403" r="6.3" fill="url(#gn)"/><circle cx="508" cy="504" r="7.2" fill="url(#gn)"/><circle cx="235" cy="154" r="7.2" fill="url(#gn)"/><circle cx="132" cy="224" r="6.9" fill="url(#gn)"/><circle cx="307" cy="253" r="9.0" fill="url(#gn)"/><circle cx="592" cy="594" r="7.3" fill="url(#gn)"/><circle cx="386" cy="112" r="9.6" fill="url(#gn)"/><circle cx="623" cy="368" r="10.1" fill="url(#gn)"/><circle cx="236" cy="557" r="6.7" fill="url(#gn)"/><circle cx="486" cy="152" r="7.5" fill="url(#gn)"/><circle cx="432" cy="597" r="8.3" fill="url(#gn)"/><circle cx="575" cy="402" r="8.5" fill="url(#gn)"/><circle cx="562" cy="534" r="6.8" fill="url(#gn)"/><circle cx="262" cy="456" r="9.0" fill="url(#gn)"/><circle cx="205" cy="87" r="10.5" fill="url(#gn)"/><circle cx="440" cy="627" r="6.8" fill="url(#gn)"/><circle cx="504" cy="488" r="8.9" fill="url(#gn)"/><circle cx="234" cy="493" r="8.8" fill="url(#gn)"/><circle cx="570" cy="544" r="8.5" fill="url(#gn)"/><circle cx="490" cy="548" r="7.3" fill="url(#gn)"/><circle cx="238" cy="232" r="10.0" fill="url(#gn)"/><circle cx="76" cy="285" r="9.3" fill="url(#gn)"/><circle cx="436" cy="148" r="6.7" fill="url(#gn)"/><circle cx="561" cy="362" r="8.6" fill="url(#gn)"/><circle cx="630" cy="446" r="7.2" fill="url(#gn)"/><circle cx="489" cy="494" r="6.9" fill="url(#gn)"/><circle cx="392" cy="519" r="7.0" fill="url(#gn)"/><circle cx="509" cy="129" r="6.5" fill="url(#gn)"/><circle cx="611" cy="491" r="6.7" fill="url(#gn)"/><circle cx="98" cy="570" r="7.3" fill="url(#gn)"/><circle cx="438" cy="163" r="10.3" fill="url(#gn)"/><circle cx="129" cy="141" r="7.6" fill="url(#gn)"/><circle cx="506" cy="415" r="8.2" fill="url(#gn)"/><circle cx="106" cy="545" r="6.8" fill="url(#gn)"/><circle cx="133" cy="618" r="8.9" fill="url(#gn)"/><circle cx="567" cy="339" r="8.0" fill="url(#gn)"/><circle cx="587" cy="183" r="9.7" fill="url(#gn)"/><circle cx="543" cy="150" r="7.1" fill="url(#gn)"/><circle cx="358" cy="468" r="6.6" fill="url(#gn)"/><circle cx="570" cy="89" r="6.3" fill="url(#gn)"/><circle cx="418" cy="291" r="12.0" fill="url(#gn)"/><circle cx="493" cy="183" r="7.1" fill="url(#gn)"/><circle cx="581" cy="122" r="6.3" fill="url(#gn)"/><circle cx="349" cy="250" r="11.5" fill="url(#gn)"/><circle cx="401" cy="133" r="8.7" fill="url(#gn)"/><circle cx="217" cy="624" r="6.4" fill="url(#gn)"/><circle cx="482" cy="608" r="6.8" fill="url(#gn)"/><circle cx="107" cy="451" r="11.0" fill="url(#gn)"/><circle cx="122" cy="418" r="6.4" fill="url(#gn)"/><circle cx="462" cy="154" r="6.6" fill="url(#gn)"/><circle cx="228" cy="452" r="6.7" fill="url(#gn)"/><circle cx="403" cy="384" r="9.3" fill="url(#gn)"/><circle cx="262" cy="386" r="9.9" fill="url(#gn)"/><circle cx="598" cy="222" r="6.3" fill="url(#gn)"/><circle cx="340" cy="399" r="6.4" fill="url(#gn)"/><circle cx="610" cy="504" r="8.0" fill="url(#gn)"/><circle cx="311" cy="274" r="6.9" fill="url(#gn)"/><circle cx="278" cy="207" r="10.4" fill="url(#gn)"/><circle cx="464" cy="288" r="6.5" fill="url(#gn)"/><circle cx="617" cy="186" r="6.9" fill="url(#gn)"/><circle cx="152" cy="367" r="6.4" fill="url(#gn)"/><circle cx="614" cy="205" r="8.0" fill="url(#gn)"/><circle cx="163" cy="422" r="7.9" fill="url(#gn)"/><circle cx="238" cy="612" r="6.8" fill="url(#gn)"/><circle cx="574" cy="228" r="6.4" fill="url(#gn)"/><circle cx="215" cy="247" r="6.5" fill="url(#gn)"/><circle cx="293" cy="628" r="8.0" fill="url(#gn)"/><circle cx="80" cy="434" r="8.4" fill="url(#gn)"/><circle cx="265" cy="427" r="7.6" fill="url(#gn)"/><circle cx="217" cy="154" r="6.6" fill="url(#gn)"/><circle cx="305" cy="207" r="6.5" fill="url(#gn)"/><circle cx="181" cy="102" r="7.1" fill="url(#gn)"/><circle cx="486" cy="458" r="7.1" fill="url(#gn)"/><circle cx="276" cy="589" r="6.5" fill="url(#gn)"/><circle cx="148" cy="377" r="6.8" fill="url(#gn)"/><circle cx="269" cy="400" r="7.3" fill="url(#gn)"/><circle cx="135" cy="553" r="8.5" fill="url(#gn)"/><circle cx="128" cy="171" r="7.2" fill="url(#gn)"/><circle cx="188" cy="327" r="7.2" fill="url(#gn)"/><circle cx="431" cy="568" r="6.3" fill="url(#gn)"/><circle cx="304" cy="165" r="7.3" fill="url(#gn)"/><circle cx="266" cy="630" r="7.0" fill="url(#gn)"/><circle cx="327" cy="89" r="7.3" fill="url(#gn)"/><circle cx="210" cy="110" r="8.0" fill="url(#gn)"/><circle cx="251" cy="332" r="7.7" fill="url(#gn)"/><circle cx="543" cy="325" r="7.8" fill="url(#gn)"/><circle cx="511" cy="161" r="8.8" fill="url(#gn)"/><circle cx="179" cy="485" r="6.5" fill="url(#gn)"/><circle cx="602" cy="559" r="7.4" fill="url(#gn)"/><circle cx="90" cy="230" r="7.1" fill="url(#gn)"/><circle cx="547" cy="580" r="7.3" fill="url(#gn)"/><circle cx="328" cy="429" r="8.3" fill="url(#gn)"/><circle cx="235" cy="597" r="6.8" fill="url(#gn)"/><circle cx="103" cy="378" r="8.4" fill="url(#gn)"/><circle cx="86" cy="256" r="6.6" fill="url(#gn)"/><circle cx="581" cy="574" r="7.3" fill="url(#gn)"/><circle cx="226" cy="291" r="6.3" fill="url(#gn)"/><circle cx="362" cy="398" r="7.6" fill="url(#gn)"/><circle cx="222" cy="325" r="8.2" fill="url(#gn)"/><circle cx="258" cy="518" r="7.4" fill="url(#gn)"/><circle cx="327" cy="120" r="7.0" fill="url(#gn)"/><circle cx="578" cy="328" r="10.1" fill="url(#gn)"/><circle cx="605" cy="612" r="9.0" fill="url(#gn)"/><circle cx="469" cy="411" r="8.0" fill="url(#gn)"/><circle cx="196" cy="559" r="7.2" fill="url(#gn)"/><circle cx="135" cy="412" r="7.0" fill="url(#gn)"/><circle cx="406" cy="423" r="6.6" fill="url(#gn)"/><circle cx="578" cy="497" r="6.5" fill="url(#gn)"/><circle cx="215" cy="262" r="6.5" fill="url(#gn)"/><circle cx="279" cy="101" r="9.2" fill="url(#gn)"/><circle cx="186" cy="390" r="6.8" fill="url(#gn)"/><circle cx="171" cy="434" r="7.3" fill="url(#gn)"/><circle cx="287" cy="367" r="8.6" fill="url(#gn)"/><circle cx="77" cy="226" r="7.8" fill="url(#gn)"/><circle cx="607" cy="435" r="6.6" fill="url(#gn)"/><circle cx="194" cy="132" r="7.2" fill="url(#gn)"/><circle cx="346" cy="574" r="6.3" fill="url(#gn)"/><circle cx="431" cy="634" r="6.9" fill="url(#gn)"/><circle cx="534" cy="332" r="6.5" fill="url(#gn)"/><circle cx="151" cy="498" r="8.7" fill="url(#gn)"/><circle cx="482" cy="395" r="6.5" fill="url(#gn)"/><circle cx="483" cy="540" r="6.8" fill="url(#gn)"/><circle cx="91" cy="342" r="6.3" fill="url(#gn)"/><circle cx="473" cy="243" r="7.8" fill="url(#gn)"/><circle cx="394" cy="220" r="7.4" fill="url(#gn)"/><circle cx="602" cy="162" r="6.4" fill="url(#gn)"/><circle cx="140" cy="148" r="8.7" fill="url(#gn)"/><circle cx="327" cy="396" r="6.9" fill="url(#gn)"/><circle cx="205" cy="506" r="6.5" fill="url(#gn)"/><circle cx="79" cy="543" r="6.5" fill="url(#gn)"/><circle cx="499" cy="257" r="6.9" fill="url(#gn)"/><circle cx="592" cy="244" r="6.7" fill="url(#gn)"/><circle cx="369" cy="495" r="6.6" fill="url(#gn)"/><circle cx="508" cy="186" r="6.3" fill="url(#gn)"/><circle cx="439" cy="180" r="7.7" fill="url(#gn)"/><circle cx="278" cy="235" r="6.7" fill="url(#gn)"/><circle cx="384" cy="406" r="7.2" fill="url(#gn)"/><circle cx="350" cy="126" r="7.8" fill="url(#gn)"/><circle cx="206" cy="429" r="6.3" fill="url(#gn)"/><circle cx="629" cy="340" r="6.3" fill="url(#gn)"/><circle cx="494" cy="606" r="7.1" fill="url(#gn)"/><circle cx="322" cy="628" r="6.3" fill="url(#gn)"/><circle cx="606" cy="383" r="6.9" fill="url(#gn)"/><circle cx="459" cy="596" r="7.5" fill="url(#gn)"/><circle cx="420" cy="308" r="8.6" fill="url(#gn)"/><circle cx="393" cy="164" r="6.7" fill="url(#gn)"/><circle cx="206" cy="178" r="7.0" fill="url(#gn)"/><circle cx="591" cy="406" r="6.4" fill="url(#gn)"/><circle cx="583" cy="281" r="7.5" fill="url(#gn)"/><circle cx="119" cy="287" r="6.4" fill="url(#gn)"/><circle cx="551" cy="172" r="6.5" fill="url(#gn)"/><circle cx="617" cy="136" r="7.9" fill="url(#gn)"/><circle cx="416" cy="252" r="6.5" fill="url(#gn)"/><circle cx="283" cy="262" r="7.3" fill="url(#gn)"/><circle cx="310" cy="550" r="6.3" fill="url(#gn)"/><circle cx="341" cy="410" r="6.9" fill="url(#gn)"/><circle cx="507" cy="285" r="6.8" fill="url(#gn)"/><circle cx="496" cy="564" r="6.7" fill="url(#gn)"/><circle cx="477" cy="345" r="6.7" fill="url(#gn)"/><circle cx="335" cy="291" r="6.8" fill="url(#gn)"/><circle cx="545" cy="120" r="6.8" fill="url(#gn)"/><circle cx="230" cy="270" r="6.8" fill="url(#gn)"/><circle cx="80" cy="598" r="6.9" fill="url(#gn)"/><circle cx="565" cy="376" r="7.4" fill="url(#gn)"/><circle cx="567" cy="514" r="6.4" fill="url(#gn)"/><circle cx="327" cy="174" r="6.3" fill="url(#gn)"/><circle cx="233" cy="185" r="6.3" fill="url(#gn)"/><circle cx="381" cy="417" r="6.3" fill="url(#gn)"/><circle cx="503" cy="234" r="7.6" fill="url(#gn)"/><circle cx="170" cy="136" r="9.0" fill="url(#gn)"/><circle cx="356" cy="100" r="6.4" fill="url(#gn)"/><circle cx="128" cy="527" r="9.3" fill="url(#gn)"/><circle cx="303" cy="619" r="7.3" fill="url(#gn)"/><circle cx="312" cy="142" r="7.4" fill="url(#gn)"/><circle cx="182" cy="251" r="6.7" fill="url(#gn)"/><circle cx="259" cy="322" r="6.5" fill="url(#gn)"/><circle cx="427" cy="104" r="8.4" fill="url(#gn)"/><circle cx="289" cy="568" r="6.5" fill="url(#gn)"/><circle cx="95" cy="243" r="7.2" fill="url(#gn)"/><circle cx="464" cy="482" r="7.0" fill="url(#gn)"/><circle cx="232" cy="396" r="7.6" fill="url(#gn)"/><circle cx="262" cy="440" r="6.4" fill="url(#gn)"/><circle cx="320" cy="345" r="6.6" fill="url(#gn)"/><circle cx="253" cy="357" r="6.5" fill="url(#gn)"/><circle cx="245" cy="166" r="7.2" fill="url(#gn)"/><circle cx="430" cy="370" r="6.3" fill="url(#gn)"/><circle cx="488" cy="281" r="6.5" fill="url(#gn)"/><circle cx="353" cy="354" r="6.3" fill="url(#gn)"/><circle cx="451" cy="200" r="6.3" fill="url(#gn)"/><circle cx="97" cy="331" r="6.6" fill="url(#gn)"/><circle cx="553" cy="542" r="7.4" fill="url(#gn)"/><circle cx="420" cy="198" r="6.4" fill="url(#gn)"/><circle cx="138" cy="165" r="6.9" fill="url(#gn)"/><circle cx="507" cy="442" r="6.4" fill="url(#gn)"/><circle cx="562" cy="272" r="6.3" fill="url(#gn)"/><circle cx="497" cy="469" r="6.4" fill="url(#gn)"/><circle cx="263" cy="107" r="6.9" fill="url(#gn)"/><circle cx="576" cy="307" r="6.3" fill="url(#gn)"/><circle cx="480" cy="554" r="6.4" fill="url(#gn)"/><circle cx="336" cy="377" r="6.6" fill="url(#gn)"/><circle cx="279" cy="457" r="7.1" fill="url(#gn)"/><circle cx="241" cy="566" r="6.6" fill="url(#gn)"/><circle cx="274" cy="488" r="7.2" fill="url(#gn)"/><circle cx="221" cy="490" r="7.1" fill="url(#gn)"/><circle cx="364" cy="250" r="6.7" fill="url(#gn)"/><circle cx="107" cy="518" r="6.3" fill="url(#gn)"/><circle cx="407" cy="397" r="6.4" fill="url(#gn)"/><circle cx="533" cy="116" r="6.8" fill="url(#gn)"/><circle cx="280" cy="635" r="6.9" fill="url(#gn)"/><circle cx="77" cy="177" r="6.8" fill="url(#gn)"/><circle cx="415" cy="537" r="6.3" fill="url(#gn)"/><circle cx="557" cy="329" r="6.3" fill="url(#gn)"/><circle cx="377" cy="602" r="8.1" fill="url(#gb)"/><circle cx="205" cy="212" r="7.2" fill="url(#gb)"/><circle cx="331" cy="245" r="6.3" fill="url(#gb)"/><circle cx="541" cy="392" r="9.7" fill="url(#gb)"/><circle cx="179" cy="632" r="11.2" fill="url(#gb)"/><circle cx="537" cy="454" r="7.7" fill="url(#gb)"/><circle cx="357" cy="410" r="6.4" fill="url(#gb)"/><circle cx="172" cy="387" r="10.1" fill="url(#gb)"/><circle cx="100" cy="473" r="12.1" fill="url(#gb)"/><circle cx="406" cy="302" r="7.0" fill="url(#gb)"/><circle cx="608" cy="88" r="10.7" fill="url(#gb)"/><circle cx="313" cy="116" r="11.3" fill="url(#gb)"/><circle cx="375" cy="429" r="9.5" fill="url(#gb)"/><circle cx="218" cy="549" r="9.9" fill="url(#gb)"/><circle cx="122" cy="94" r="6.3" fill="url(#gb)"/><circle cx="496" cy="223" r="6.7" fill="url(#gb)"/><circle cx="228" cy="477" r="8.6" fill="url(#gb)"/><circle cx="291" cy="317" r="7.0" fill="url(#gb)"/><circle cx="136" cy="581" r="8.9" fill="url(#gb)"/><circle cx="192" cy="419" r="10.9" fill="url(#gb)"/><circle cx="611" cy="399" r="7.0" fill="url(#gb)"/><circle cx="359" cy="293" r="7.9" fill="url(#gb)"/><circle cx="184" cy="143" r="9.9" fill="url(#gb)"/><circle cx="267" cy="571" r="10.0" fill="url(#gb)"/><circle cx="514" cy="542" r="7.9" fill="url(#gb)"/><circle cx="393" cy="208" r="6.5" fill="url(#gb)"/><circle cx="438" cy="107" r="6.3" fill="url(#gb)"/><circle cx="583" cy="619" r="12.0" fill="url(#gb)"/><circle cx="138" cy="204" r="9.6" fill="url(#gb)"/><circle cx="444" cy="228" r="9.1" fill="url(#gb)"/><circle cx="232" cy="627" r="8.5" fill="url(#gb)"/><circle cx="438" cy="440" r="11.8" fill="url(#gb)"/><circle cx="252" cy="552" r="11.4" fill="url(#gb)"/><circle cx="244" cy="269" r="9.1" fill="url(#gb)"/><circle cx="87" cy="219" r="6.5" fill="url(#gb)"/><circle cx="623" cy="538" r="7.8" fill="url(#gb)"/><circle cx="578" cy="528" r="11.5" fill="url(#gb)"/><circle cx="328" cy="303" r="7.9" fill="url(#gb)"/><circle cx="273" cy="161" r="6.7" fill="url(#gb)"/><circle cx="436" cy="327" r="10.0" fill="url(#gb)"/><circle cx="342" cy="209" r="8.3" fill="url(#gb)"/><circle cx="387" cy="585" r="11.6" fill="url(#gb)"/><circle cx="116" cy="367" r="11.3" fill="url(#gb)"/><circle cx="442" cy="471" r="8.5" fill="url(#gb)"/><circle cx="522" cy="324" r="6.9" fill="url(#gb)"/><circle cx="609" cy="151" r="9.5" fill="url(#gb)"/><circle cx="303" cy="150" r="7.6" fill="url(#gb)"/><circle cx="525" cy="150" r="10.4" fill="url(#gb)"/><circle cx="350" cy="496" r="9.7" fill="url(#gb)"/><circle cx="529" cy="419" r="7.9" fill="url(#gb)"/><circle cx="472" cy="534" r="7.5" fill="url(#gb)"/><circle cx="469" cy="550" r="6.3" fill="url(#gb)"/><circle cx="266" cy="547" r="6.7" fill="url(#gb)"/><circle cx="461" cy="137" r="8.2" fill="url(#gb)"/><circle cx="628" cy="110" r="10.8" fill="url(#gb)"/><circle cx="565" cy="503" r="6.9" fill="url(#gb)"/><circle cx="427" cy="619" r="9.7" fill="url(#gb)"/><circle cx="404" cy="278" r="9.5" fill="url(#gb)"/><circle cx="160" cy="591" r="11.2" fill="url(#gb)"/><circle cx="258" cy="123" r="12.0" fill="url(#gb)"/><circle cx="511" cy="472" r="10.4" fill="url(#gb)"/><circle cx="300" cy="341" r="12.0" fill="url(#gb)"/><circle cx="172" cy="560" r="6.3" fill="url(#gb)"/><circle cx="280" cy="552" r="10.2" fill="url(#gb)"/><circle cx="347" cy="307" r="11.4" fill="url(#gb)"/><circle cx="491" cy="620" r="9.1" fill="url(#gb)"/><circle cx="377" cy="536" r="11.9" fill="url(#gb)"/><circle cx="596" cy="578" r="9.9" fill="url(#gb)"/><circle cx="283" cy="498" r="8.7" fill="url(#gb)"/><circle cx="263" cy="336" r="6.7" fill="url(#gb)"/><circle cx="404" cy="243" r="12.2" fill="url(#gb)"/><circle cx="605" cy="305" r="10.3" fill="url(#gb)"/><circle cx="539" cy="134" r="9.5" fill="url(#gb)"/><circle cx="133" cy="390" r="8.3" fill="url(#gb)"/><circle cx="291" cy="584" r="7.1" fill="url(#gb)"/><circle cx="365" cy="315" r="11.4" fill="url(#gb)"/><circle cx="498" cy="271" r="8.7" fill="url(#gb)"/><circle cx="544" cy="211" r="7.5" fill="url(#gb)"/><circle cx="468" cy="312" r="6.8" fill="url(#gb)"/><circle cx="159" cy="313" r="7.5" fill="url(#gb)"/><circle cx="154" cy="226" r="6.6" fill="url(#gb)"/><circle cx="119" cy="484" r="6.6" fill="url(#gb)"/><circle cx="287" cy="395" r="11.4" fill="url(#gb)"/><circle cx="311" cy="599" r="8.3" fill="url(#gb)"/><circle cx="413" cy="114" r="8.7" fill="url(#gb)"/><circle cx="321" cy="384" r="9.3" fill="url(#gb)"/><circle cx="162" cy="621" r="11.0" fill="url(#gb)"/><circle cx="444" cy="274" r="7.3" fill="url(#gb)"/><circle cx="479" cy="471" r="10.1" fill="url(#gb)"/><circle cx="336" cy="167" r="6.8" fill="url(#gb)"/><circle cx="375" cy="194" r="8.4" fill="url(#gb)"/><circle cx="560" cy="403" r="9.2" fill="url(#gb)"/><circle cx="404" cy="156" r="9.1" fill="url(#gb)"/><circle cx="117" cy="218" r="8.1" fill="url(#gb)"/><circle cx="125" cy="541" r="7.2" fill="url(#gb)"/><circle cx="251" cy="533" r="11.9" fill="url(#gb)"/><circle cx="428" cy="220" r="7.2" fill="url(#gb)"/><circle cx="188" cy="506" r="8.1" fill="url(#gb)"/><circle cx="503" cy="317" r="7.5" fill="url(#gb)"/><circle cx="387" cy="335" r="6.4" fill="url(#gb)"/><circle cx="174" cy="166" r="11.5" fill="url(#gb)"/><circle cx="111" cy="433" r="10.9" fill="url(#gb)"/><circle cx="456" cy="249" r="11.7" fill="url(#gb)"/><circle cx="445" cy="610" r="8.4" fill="url(#gb)"/><circle cx="605" cy="544" r="9.2" fill="url(#gb)"/><circle cx="454" cy="402" r="11.2" fill="url(#gb)"/><circle cx="330" cy="576" r="7.3" fill="url(#gb)"/><circle cx="319" cy="439" r="8.0" fill="url(#gb)"/><circle cx="147" cy="466" r="11.9" fill="url(#gb)"/><circle cx="332" cy="562" r="6.5" fill="url(#gb)"/><circle cx="360" cy="156" r="11.6" fill="url(#gb)"/><circle cx="620" cy="123" r="6.3" fill="url(#gb)"/><circle cx="518" cy="569" r="6.8" fill="url(#gb)"/><circle cx="418" cy="561" r="8.1" fill="url(#gb)"/><circle cx="203" cy="257" r="8.9" fill="url(#gb)"/><circle cx="103" cy="284" r="9.5" fill="url(#gb)"/><circle cx="623" cy="95" r="7.7" fill="url(#gb)"/><circle cx="393" cy="470" r="11.6" fill="url(#gb)"/><circle cx="287" cy="446" r="10.4" fill="url(#gb)"/><circle cx="419" cy="327" r="10.9" fill="url(#gb)"/><circle cx="583" cy="513" r="7.0" fill="url(#gb)"/><circle cx="106" cy="343" r="11.7" fill="url(#gb)"/><circle cx="295" cy="380" r="7.2" fill="url(#gb)"/><circle cx="148" cy="159" r="7.8" fill="url(#gb)"/><circle cx="152" cy="283" r="7.0" fill="url(#gb)"/><circle cx="282" cy="277" r="10.5" fill="url(#gb)"/><circle cx="305" cy="288" r="9.1" fill="url(#gb)"/><circle cx="419" cy="398" r="6.4" fill="url(#gb)"/><circle cx="148" cy="244" r="8.7" fill="url(#gb)"/><circle cx="367" cy="348" r="10.3" fill="url(#gb)"/><circle cx="557" cy="288" r="6.6" fill="url(#gb)"/><circle cx="294" cy="108" r="9.4" fill="url(#gb)"/><circle cx="412" cy="436" r="10.0" fill="url(#gb)"/><circle cx="100" cy="391" r="7.7" fill="url(#gb)"/><circle cx="512" cy="174" r="6.9" fill="url(#gb)"/><circle cx="430" cy="539" r="8.4" fill="url(#gb)"/><circle cx="548" cy="280" r="8.0" fill="url(#gb)"/><circle cx="503" cy="337" r="11.2" fill="url(#gb)"/><circle cx="522" cy="311" r="6.6" fill="url(#gb)"/><circle cx="111" cy="271" r="8.7" fill="url(#gb)"/><circle cx="599" cy="281" r="12.1" fill="url(#gb)"/><circle cx="569" cy="458" r="7.5" fill="url(#gb)"/><circle cx="173" cy="88" r="9.1" fill="url(#gb)"/><circle cx="412" cy="479" r="8.3" fill="url(#gb)"/><circle cx="540" cy="365" r="8.9" fill="url(#gb)"/><circle cx="235" cy="283" r="9.1" fill="url(#gb)"/><circle cx="290" cy="180" r="6.6" fill="url(#gb)"/><circle cx="553" cy="595" r="11.5" fill="url(#gb)"/><circle cx="509" cy="300" r="11.8" fill="url(#gb)"/><circle cx="294" cy="301" r="10.3" fill="url(#gb)"/><circle cx="593" cy="531" r="6.4" fill="url(#gb)"/><circle cx="232" cy="253" r="11.7" fill="url(#gb)"/><circle cx="498" cy="201" r="11.6" fill="url(#gb)"/><circle cx="114" cy="169" r="9.4" fill="url(#gb)"/><circle cx="215" cy="442" r="7.7" fill="url(#gb)"/><circle cx="237" cy="525" r="7.8" fill="url(#gb)"/><circle cx="170" cy="573" r="6.4" fill="url(#gb)"/><circle cx="136" cy="425" r="10.1" fill="url(#gb)"/><circle cx="168" cy="106" r="8.2" fill="url(#gb)"/><circle cx="606" cy="462" r="9.9" fill="url(#gb)"/><circle cx="602" cy="629" r="8.7" fill="url(#gb)"/><circle cx="166" cy="469" r="6.5" fill="url(#gb)"/><circle cx="479" cy="361" r="7.2" fill="url(#gb)"/><circle cx="221" cy="512" r="7.2" fill="url(#gb)"/><circle cx="556" cy="107" r="7.9" fill="url(#gb)"/><circle cx="196" cy="301" r="11.1" fill="url(#gb)"/><circle cx="233" cy="544" r="6.6" fill="url(#gb)"/><circle cx="246" cy="180" r="10.4" fill="url(#gb)"/><circle cx="86" cy="185" r="8.6" fill="url(#gb)"/><circle cx="368" cy="576" r="11.9" fill="url(#gb)"/><circle cx="462" cy="614" r="7.1" fill="url(#gb)"/><circle cx="447" cy="459" r="7.1" fill="url(#gb)"/><circle cx="468" cy="393" r="9.3" fill="url(#gb)"/><circle cx="214" cy="343" r="6.4" fill="url(#gb)"/><circle cx="246" cy="297" r="7.6" fill="url(#gb)"/><circle cx="317" cy="453" r="9.3" fill="url(#gb)"/><circle cx="318" cy="285" r="7.2" fill="url(#gb)"/><circle cx="627" cy="197" r="8.6" fill="url(#gb)"/><circle cx="522" cy="177" r="6.3" fill="url(#gb)"/><circle cx="491" cy="385" r="9.8" fill="url(#gb)"/><circle cx="76" cy="102" r="6.5" fill="url(#gb)"/><circle cx="409" cy="201" r="6.5" fill="url(#gb)"/><circle cx="627" cy="429" r="6.3" fill="url(#gb)"/><circle cx="491" cy="480" r="8.8" fill="url(#gb)"/><circle cx="485" cy="333" r="10.9" fill="url(#gb)"/><circle cx="82" cy="556" r="8.1" fill="url(#gb)"/><circle cx="162" cy="357" r="6.9" fill="url(#gb)"/><circle cx="231" cy="165" r="6.4" fill="url(#gb)"/><circle cx="286" cy="330" r="7.7" fill="url(#gb)"/><circle cx="337" cy="320" r="6.5" fill="url(#gb)"/><circle cx="579" cy="296" r="8.4" fill="url(#gb)"/><circle cx="310" cy="426" r="6.3" fill="url(#gb)"/><circle cx="349" cy="368" r="11.8" fill="url(#gb)"/><circle cx="431" cy="231" r="6.3" fill="url(#gb)"/><circle cx="631" cy="401" r="8.7" fill="url(#gb)"/><circle cx="495" cy="593" r="7.3" fill="url(#gb)"/><circle cx="513" cy="140" r="7.5" fill="url(#gb)"/><circle cx="200" cy="396" r="11.9" fill="url(#gb)"/><circle cx="88" cy="499" r="8.1" fill="url(#gb)"/><circle cx="197" cy="633" r="10.8" fill="url(#gb)"/><circle cx="511" cy="355" r="8.3" fill="url(#gb)"/><circle cx="205" cy="164" r="7.9" fill="url(#gb)"/><circle cx="527" cy="294" r="6.7" fill="url(#gb)"/><circle cx="413" cy="266" r="8.0" fill="url(#gb)"/><circle cx="120" cy="499" r="6.8" fill="url(#gb)"/><circle cx="442" cy="368" r="7.2" fill="url(#gb)"/><circle cx="217" cy="461" r="10.6" fill="url(#gb)"/><circle cx="302" cy="130" r="9.4" fill="url(#gb)"/><circle cx="385" cy="493" r="8.3" fill="url(#gb)"/><circle cx="312" cy="319" r="10.9" fill="url(#gb)"/><circle cx="165" cy="339" r="8.1" fill="url(#gb)"/><circle cx="105" cy="503" r="11.8" fill="url(#gb)"/><circle cx="84" cy="328" r="8.5" fill="url(#gb)"/><circle cx="272" cy="116" r="6.7" fill="url(#gb)"/><circle cx="137" cy="489" r="10.5" fill="url(#gb)"/><circle cx="129" cy="354" r="7.9" fill="url(#gb)"/><circle cx="573" cy="636" r="10.4" fill="url(#gb)"/><circle cx="222" cy="174" r="8.3" fill="url(#gb)"/><circle cx="584" cy="109" r="6.4" fill="url(#gb)"/><circle cx="356" cy="85" r="10.5" fill="url(#gb)"/><circle cx="131" cy="601" r="7.2" fill="url(#gb)"/><circle cx="134" cy="635" r="7.1" fill="url(#gb)"/><circle cx="604" cy="131" r="9.0" fill="url(#gb)"/><circle cx="298" cy="275" r="8.9" fill="url(#gb)"/><circle cx="365" cy="593" r="8.1" fill="url(#gb)"/><circle cx="508" cy="582" r="7.3" fill="url(#gb)"/><circle cx="245" cy="91" r="8.3" fill="url(#gb)"/><circle cx="512" cy="432" r="7.8" fill="url(#gb)"/><circle cx="590" cy="635" r="8.4" fill="url(#gb)"/><circle cx="233" cy="88" r="7.2" fill="url(#gb)"/><circle cx="104" cy="214" r="8.4" fill="url(#gb)"/><circle cx="152" cy="444" r="6.3" fill="url(#gb)"/><circle cx="83" cy="202" r="10.5" fill="url(#gb)"/><circle cx="116" cy="385" r="8.4" fill="url(#gb)"/><circle cx="613" cy="555" r="6.4" fill="url(#gb)"/><circle cx="216" cy="636" r="7.0" fill="url(#gb)"/><circle cx="281" cy="87" r="6.3" fill="url(#gb)"/><circle cx="221" cy="596" r="9.5" fill="url(#gb)"/><circle cx="455" cy="503" r="10.7" fill="url(#gb)"/><circle cx="300" cy="607" r="6.5" fill="url(#gb)"/><circle cx="303" cy="577" r="9.4" fill="url(#gb)"/><circle cx="443" cy="571" r="8.5" fill="url(#gb)"/><circle cx="499" cy="144" r="10.6" fill="url(#gb)"/><circle cx="442" cy="211" r="8.4" fill="url(#gb)"/><circle cx="276" cy="359" r="6.9" fill="url(#gb)"/><circle cx="144" cy="110" r="6.5" fill="url(#gb)"/><circle cx="131" cy="242" r="9.9" fill="url(#gb)"/><circle cx="428" cy="354" r="10.3" fill="url(#gb)"/><circle cx="569" cy="152" r="11.4" fill="url(#gb)"/><circle cx="207" cy="412" r="6.7" fill="url(#gb)"/><circle cx="537" cy="431" r="9.3" fill="url(#gb)"/><circle cx="129" cy="466" r="6.6" fill="url(#gb)"/><circle cx="362" cy="205" r="9.2" fill="url(#gb)"/><circle cx="365" cy="451" r="7.8" fill="url(#gb)"/><circle cx="428" cy="174" r="7.2" fill="url(#gb)"/><circle cx="226" cy="342" r="6.9" fill="url(#gb)"/><circle cx="337" cy="154" r="7.3" fill="url(#gb)"/><circle cx="436" cy="133" r="6.9" fill="url(#gb)"/><circle cx="325" cy="213" r="12.1" fill="url(#gb)"/><circle cx="243" cy="482" r="6.3" fill="url(#gb)"/><circle cx="115" cy="474" r="6.4" fill="url(#gb)"/><circle cx="332" cy="143" r="7.0" fill="url(#gb)"/><circle cx="458" cy="373" r="7.1" fill="url(#gb)"/><circle cx="444" cy="529" r="6.5" fill="url(#gb)"/><circle cx="370" cy="630" r="8.0" fill="url(#gb)"/><circle cx="94" cy="516" r="9.1" fill="url(#gb)"/><circle cx="181" cy="518" r="8.4" fill="url(#gb)"/><circle cx="441" cy="257" r="9.1" fill="url(#gb)"/><circle cx="478" cy="619" r="6.4" fill="url(#gb)"/><circle cx="315" cy="99" r="7.1" fill="url(#gb)"/><circle cx="137" cy="92" r="10.1" fill="url(#gb)"/><circle cx="357" cy="530" r="10.2" fill="url(#gb)"/><circle cx="565" cy="233" r="6.9" fill="url(#gb)"/><circle cx="227" cy="368" r="8.1" fill="url(#gb)"/><circle cx="113" cy="534" r="6.3" fill="url(#gb)"/><circle cx="294" cy="483" r="6.6" fill="url(#gb)"/><circle cx="398" cy="180" r="7.5" fill="url(#gb)"/><circle cx="363" cy="482" r="9.0" fill="url(#gb)"/><circle cx="323" cy="587" r="7.8" fill="url(#gb)"/><circle cx="116" cy="595" r="8.4" fill="url(#gb)"/><circle cx="406" cy="491" r="6.5" fill="url(#gb)"/><circle cx="314" cy="534" r="6.6" fill="url(#gb)"/><circle cx="186" cy="287" r="7.0" fill="url(#gb)"/><circle cx="492" cy="130" r="6.5" fill="url(#gb)"/><circle cx="114" cy="233" r="6.3" fill="url(#gb)"/><circle cx="604" cy="250" r="6.5" fill="url(#gb)"/><circle cx="506" cy="517" r="8.0" fill="url(#gb)"/><circle cx="551" cy="231" r="6.8" fill="url(#gb)"/><circle cx="521" cy="596" r="7.8" fill="url(#gb)"/><circle cx="242" cy="135" r="7.3" fill="url(#gb)"/><circle cx="296" cy="594" r="6.7" fill="url(#gb)"/><circle cx="299" cy="543" r="8.2" fill="url(#gb)"/><circle cx="358" cy="277" r="8.4" fill="url(#gb)"/><circle cx="480" cy="374" r="7.3" fill="url(#gb)"/><circle cx="339" cy="434" r="6.4" fill="url(#gb)"/><circle cx="194" cy="361" r="6.9" fill="url(#gb)"/><circle cx="182" cy="574" r="6.5" fill="url(#gb)"/><circle cx="450" cy="308" r="8.3" fill="url(#gb)"/><circle cx="252" cy="104" r="6.4" fill="url(#gb)"/><circle cx="503" cy="98" r="6.3" fill="url(#gb)"/><circle cx="630" cy="613" r="9.9" fill="url(#gb)"/><circle cx="212" cy="221" r="6.3" fill="url(#gb)"/><circle cx="410" cy="169" r="6.9" fill="url(#gb)"/><circle cx="397" cy="444" r="6.9" fill="url(#gb)"/><circle cx="236" cy="376" r="6.4" fill="url(#gb)"/><circle cx="440" cy="504" r="6.6" fill="url(#gb)"/><circle cx="285" cy="126" r="7.3" fill="url(#gb)"/><circle cx="518" cy="556" r="7.9" fill="url(#gb)"/><circle cx="429" cy="205" r="6.3" fill="url(#gb)"/><circle cx="290" cy="161" r="8.7" fill="url(#gb)"/><circle cx="383" cy="347" r="6.5" fill="url(#gb)"/><circle cx="568" cy="441" r="8.9" fill="url(#gb)"/><circle cx="156" cy="522" r="6.8" fill="url(#gb)"/><circle cx="255" cy="277" r="6.6" fill="url(#gb)"/><circle cx="433" cy="267" r="7.2" fill="url(#gb)"/><circle cx="297" cy="408" r="7.7" fill="url(#gb)"/><circle cx="306" cy="238" r="7.6" fill="url(#gb)"/><circle cx="497" cy="575" r="7.0" fill="url(#gb)"/><circle cx="599" cy="260" r="6.3" fill="url(#gb)"/><circle cx="537" cy="288" r="7.4" fill="url(#gb)"/><circle cx="531" cy="548" r="6.3" fill="url(#gb)"/><circle cx="408" cy="313" r="7.5" fill="url(#gb)"/><circle cx="137" cy="124" r="6.4" fill="url(#gb)"/><circle cx="542" cy="197" r="8.1" fill="url(#gb)"/><circle cx="385" cy="236" r="6.8" fill="url(#gb)"/><circle cx="299" cy="435" r="8.1" fill="url(#gb)"/><circle cx="462" cy="438" r="8.1" fill="url(#gb)"/><circle cx="345" cy="515" r="7.6" fill="url(#gb)"/><circle cx="607" cy="114" r="7.5" fill="url(#gb)"/><circle cx="336" cy="264" r="7.8" fill="url(#gb)"/><circle cx="332" cy="482" r="6.5" fill="url(#gb)"/><circle cx="481" cy="315" r="8.8" fill="url(#gb)"/><circle cx="436" cy="458" r="6.4" fill="url(#gb)"/><circle cx="373" cy="237" r="7.8" fill="url(#gb)"/><circle cx="351" cy="227" r="7.2" fill="url(#gb)"/><circle cx="141" cy="595" r="6.7" fill="url(#gb)"/><circle cx="427" cy="190" r="6.9" fill="url(#gb)"/><circle cx="258" cy="170" r="8.1" fill="url(#gb)"/><circle cx="564" cy="121" r="7.0" fill="url(#gb)"/><circle cx="361" cy="422" r="8.6" fill="url(#gb)"/><circle cx="97" cy="488" r="7.2" fill="url(#gb)"/><circle cx="185" cy="316" r="6.9" fill="url(#gb)"/><circle cx="507" cy="594" r="7.4" fill="url(#gb)"/><circle cx="425" cy="259" r="6.4" fill="url(#gb)"/><circle cx="431" cy="555" r="6.4" fill="url(#gb)"/><circle cx="369" cy="367" r="6.9" fill="url(#gb)"/><circle cx="393" cy="302" r="7.5" fill="url(#gb)"/><circle cx="630" cy="132" r="7.3" fill="url(#gb)"/><circle cx="532" cy="487" r="6.4" fill="url(#gb)"/><circle cx="535" cy="596" r="8.0" fill="url(#gb)"/><circle cx="566" cy="301" r="8.0" fill="url(#gb)"/><circle cx="412" cy="143" r="6.5" fill="url(#gb)"/><circle cx="340" cy="555" r="6.4" fill="url(#gb)"/><circle cx="154" cy="481" r="6.5" fill="url(#gb)"/><circle cx="629" cy="418" r="6.7" fill="url(#gb)"/><circle cx="180" cy="189" r="6.4" fill="url(#gb)"/><circle cx="121" cy="453" r="6.8" fill="url(#gb)"/><circle cx="469" cy="378" r="6.5" fill="url(#gb)"/><circle cx="525" cy="166" r="7.3" fill="url(#gb)"/><circle cx="278" cy="297" r="7.8" fill="url(#gb)"/><circle cx="382" cy="213" r="6.3" fill="url(#gb)"/><circle cx="169" cy="148" r="6.4" fill="url(#gb)"/><circle cx="81" cy="311" r="6.6" fill="url(#gb)"/><circle cx="591" cy="453" r="7.6" fill="url(#gb)"/><circle cx="474" cy="145" r="8.9" fill="url(#gb)"/><circle cx="253" cy="255" r="6.8" fill="url(#gb)"/><circle cx="187" cy="592" r="6.5" fill="url(#gb)"/><circle cx="531" cy="185" r="8.0" fill="url(#gb)"/><circle cx="399" cy="117" r="7.5" fill="url(#gb)"/><circle cx="469" cy="101" r="7.4" fill="url(#gb)"/><circle cx="583" cy="216" r="6.4" fill="url(#gb)"/><circle cx="202" cy="459" r="6.3" fill="url(#gb)"/><circle cx="615" cy="621" r="6.7" fill="url(#gb)"/><circle cx="576" cy="415" r="6.8" fill="url(#gb)"/><circle cx="543" cy="618" r="6.3" fill="url(#gb)"/><circle cx="375" cy="459" r="6.8" fill="url(#gb)"/><circle cx="456" cy="450" r="6.5" fill="url(#gb)"/><circle cx="467" cy="364" r="7.3" fill="url(#gb)"/><circle cx="591" cy="566" r="6.4" fill="url(#gb)"/><circle cx="629" cy="600" r="6.8" fill="url(#gb)"/><circle cx="572" cy="111" r="6.3" fill="url(#gb)"/><circle cx="77" cy="339" r="6.3" fill="url(#gb)"/><circle cx="340" cy="525" r="6.5" fill="url(#gb)"/><circle cx="242" cy="211" r="6.4" fill="url(#gb)"/><circle cx="613" cy="168" r="6.4" fill="url(#gb)"/><circle cx="320" cy="244" r="6.7" fill="url(#gb)"/><circle cx="276" cy="436" r="7.9" fill="url(#gb)"/><circle cx="631" cy="519" r="7.4" fill="url(#gb)"/><circle cx="153" cy="537" r="6.3" fill="url(#gb)"/><circle cx="281" cy="408" r="6.5" fill="url(#gb)"/><circle cx="302" cy="449" r="8.0" fill="url(#gb)"/><circle cx="204" cy="337" r="6.8" fill="url(#gb)"/><circle cx="314" cy="298" r="8.2" fill="url(#gb)"/><circle cx="530" cy="357" r="6.7" fill="url(#gb)"/><circle cx="230" cy="355" r="6.7" fill="url(#gb)"/><circle cx="316" cy="573" r="7.5" fill="url(#gb)"/><circle cx="457" cy="126" r="6.9" fill="url(#gb)"/><circle cx="117" cy="312" r="6.8" fill="url(#gb)"/><circle cx="592" cy="120" r="6.6" fill="url(#gb)"/><circle cx="177" cy="475" r="7.2" fill="url(#gb)"/><circle cx="389" cy="249" r="7.7" fill="url(#gb)"/><circle cx="526" cy="636" r="6.7" fill="url(#gb)"/><circle cx="211" cy="583" r="7.1" fill="url(#gb)"/><circle cx="166" cy="550" r="6.3" fill="url(#gb)"/><circle cx="294" cy="211" r="7.3" fill="url(#gb)"/><circle cx="140" cy="540" r="7.0" fill="url(#gb)"/><circle cx="574" cy="359" r="6.3" fill="url(#gb)"/><circle cx="178" cy="336" r="6.4" fill="url(#gb)"/><circle cx="593" cy="295" r="6.8" fill="url(#gb)"/><circle cx="147" cy="309" r="6.5" fill="url(#gb)"/><circle cx="235" cy="301" r="6.5" fill="url(#gb)"/><circle cx="438" cy="520" r="6.6" fill="url(#gw)"/><circle cx="471" cy="601" r="8.4" fill="url(#gw)"/><circle cx="355" cy="626" r="10.6" fill="url(#gw)"/><circle cx="562" cy="254" r="11.2" fill="url(#gw)"/><circle cx="326" cy="258" r="6.5" fill="url(#gw)"/><circle cx="247" cy="221" r="6.5" fill="url(#gw)"/><circle cx="112" cy="616" r="10.8" fill="url(#gw)"/><circle cx="289" cy="242" r="6.7" fill="url(#gw)"/><circle cx="301" cy="560" r="9.4" fill="url(#gw)"/><circle cx="367" cy="135" r="10.8" fill="url(#gw)"/><circle cx="382" cy="623" r="6.9" fill="url(#gw)"/><circle cx="81" cy="630" r="9.8" fill="url(#gw)"/><circle cx="544" cy="552" r="7.9" fill="url(#gw)"/><circle cx="570" cy="173" r="11.1" fill="url(#gw)"/><circle cx="321" cy="470" r="9.7" fill="url(#gw)"/><circle cx="216" cy="193" r="10.8" fill="url(#gw)"/><circle cx="174" cy="584" r="6.6" fill="url(#gw)"/><circle cx="226" cy="423" r="11.9" fill="url(#gw)"/><circle cx="258" cy="307" r="8.0" fill="url(#gw)"/><circle cx="343" cy="105" r="6.4" fill="url(#gw)"/><circle cx="442" cy="558" r="6.3" fill="url(#gw)"/><circle cx="539" cy="224" r="7.7" fill="url(#gw)"/><circle cx="625" cy="632" r="6.7" fill="url(#gw)"/><circle cx="174" cy="299" r="11.5" fill="url(#gw)"/><circle cx="589" cy="134" r="9.0" fill="url(#gw)"/><circle cx="375" cy="509" r="9.6" fill="url(#gw)"/><circle cx="117" cy="110" r="7.7" fill="url(#gw)"/><circle cx="538" cy="263" r="7.7" fill="url(#gw)"/><circle cx="381" cy="446" r="10.7" fill="url(#gw)"/><circle cx="100" cy="314" r="10.9" fill="url(#gw)"/><circle cx="291" cy="227" r="9.7" fill="url(#gw)"/><circle cx="626" cy="561" r="8.6" fill="url(#gw)"/><circle cx="444" cy="342" r="8.1" fill="url(#gw)"/><circle cx="627" cy="503" r="9.6" fill="url(#gw)"/><circle cx="247" cy="628" r="7.7" fill="url(#gw)"/><circle cx="247" cy="444" r="6.9" fill="url(#gw)"/><circle cx="503" cy="555" r="6.7" fill="url(#gw)"/><circle cx="518" cy="195" r="7.5" fill="url(#gw)"/><circle cx="393" cy="395" r="7.7" fill="url(#gw)"/><circle cx="311" cy="483" r="6.9" fill="url(#gw)"/><circle cx="254" cy="583" r="8.0" fill="url(#gw)"/><circle cx="477" cy="438" r="6.6" fill="url(#gw)"/><circle cx="279" cy="422" r="10.2" fill="url(#gw)"/><circle cx="530" cy="475" r="7.1" fill="url(#gw)"/><circle cx="244" cy="431" r="8.1" fill="url(#gw)"/><circle cx="94" cy="174" r="7.7" fill="url(#gw)"/><circle cx="547" cy="86" r="11.1" fill="url(#gw)"/><circle cx="368" cy="96" r="7.5" fill="url(#gw)"/><circle cx="224" cy="215" r="8.1" fill="url(#gw)"/><circle cx="565" cy="188" r="6.5" fill="url(#gw)"/><circle cx="150" cy="417" r="6.4" fill="url(#gw)"/><circle cx="97" cy="363" r="9.0" fill="url(#gw)"/><circle cx="267" cy="351" r="6.8" fill="url(#gw)"/><circle cx="198" cy="586" r="8.2" fill="url(#gw)"/><circle cx="347" cy="166" r="6.8" fill="url(#gw)"/><circle cx="104" cy="89" r="10.9" fill="url(#gw)"/><circle cx="175" cy="599" r="9.6" fill="url(#gw)"/><circle cx="563" cy="423" r="9.6" fill="url(#gw)"/><circle cx="347" cy="198" r="6.4" fill="url(#gw)"/><circle cx="434" cy="280" r="6.3" fill="url(#gw)"/><circle cx="375" cy="285" r="6.8" fill="url(#gw)"/><circle cx="301" cy="531" r="6.6" fill="url(#gw)"/><circle cx="235" cy="463" r="6.7" fill="url(#gw)"/><circle cx="158" cy="607" r="6.3" fill="url(#gw)"/><circle cx="262" cy="226" r="8.5" fill="url(#gw)"/><circle cx="529" cy="404" r="6.9" fill="url(#gw)"/><circle cx="569" cy="285" r="8.4" fill="url(#gw)"/><circle cx="420" cy="465" r="7.3" fill="url(#gw)"/><circle cx="323" cy="369" r="6.6" fill="url(#gw)"/><circle cx="143" cy="354" r="6.8" fill="url(#gw)"/><circle cx="418" cy="573" r="6.7" fill="url(#gw)"/><circle cx="227" cy="239" r="6.3" fill="url(#gw)"/><circle cx="311" cy="374" r="6.3" fill="url(#gw)"/>
</g></g>
<rect x="727" y="95.2" width="538.2" height="530.3" fill="#7e3a00"/>
<rect x="727" y="95.2" width="538.2" height="530.3" fill="#7e3a00" filter="url(#fb)"/>
<rect x="1369" y="98" width="534.5" height="530.3" fill="#8a4500"/>
<rect x="1369" y="98" width="534.5" height="530.3" fill="#8a4500" filter="url(#fc)"/>
<rect x="87" y="96" width="533.5" height="529" fill="none" stroke="#4a0a00" stroke-opacity="0.38" stroke-width="2"/>
<rect x="728" y="96.2" width="536.2" height="528.3" fill="none" stroke="#4a0a00" stroke-opacity="0.38" stroke-width="2"/>
<rect x="1370" y="99" width="532.5" height="528.3" fill="none" stroke="#4a0a00" stroke-opacity="0.38" stroke-width="2"/>
<polyline points="86,343.2 226,343.2 360,342.6" fill="none" stroke="#ecdcdc" stroke-width="2.2" opacity="0.88"/>
<polyline points="360,342.6 621.5,340.6" fill="none" stroke="#e8d6da" stroke-width="2.1" opacity="0.66"/>
<path d="M222.7 345.3 h6 M225.7 341.8 v7" stroke="#2a2ab0" stroke-width="2" fill="none" opacity="0.9"/>
<path d="M357 345.3 h6 M360 341.8 v7" stroke="#2a2ab0" stroke-width="2" fill="none" opacity="0.9"/>
<path d="M727 319.3 H821.5 M821.5 318.2 H1001 M1001 317 H1184 M1184 315.3 H1265.2" fill="none" stroke="#e4c6b6" stroke-width="2.3"/>
<path d="M750.6 319.3 h6 M753.6 315.8 v7" stroke="#3434d8" stroke-width="2" fill="none" opacity="0.9"/>
<path d="M1249.9 316 h6 M1252.9 312.5 v7" stroke="#3434d8" stroke-width="2" fill="none" opacity="0.9"/>
<path d="M1369 319.7 H1634 M1634 318.2 H1903.5" fill="none" stroke="#e6cab8" stroke-width="2.1"/>
<path d="M1371 319.5 h6 M1374 316 v7" stroke="#2a2ab0" stroke-width="2" fill="none" opacity="0.9"/>
<rect x="2022.8" y="99" width="60" height="526" fill="url(#cb)"/>
<rect x="2022.6" y="98.8" width="60.4" height="526.2" fill="none" stroke="url(#cbb)" stroke-width="3.2"/>
<rect x="2021" y="97" width="63.6" height="3" fill="#b4b4b4"/>
<text class="ser" x="2052.5" y="71.3" font-size="37" text-anchor="middle" textLength="77" lengthAdjust="spacingAndGlyphs">5 nm</text>
<text class="ser" x="2043.7" y="696.4" font-size="37" text-anchor="middle" textLength="89" lengthAdjust="spacingAndGlyphs">-5 nm</text>
<rect x="87.4" y="668.4" width="525.4" height="420" fill="#fff" stroke="#000" stroke-width="3"/>
<path d="M87.4 879.3 h-7.5 M87.4 697.7 h-7.5 M87.4 759.3 h-7.5 M87.4 818.2 h-7.5 M87.4 938.9 h-7.5 M87.4 999.1 h-7.5 M87.4 1058.7 h-7.5 M87.4 730.6 h-5 M87.4 788.7 h-5 M87.4 850.3 h-5 M87.4 909 h-5 M87.4 968 h-5 M87.4 1029.6 h-5 M87.4 668.4 h-5 M87.4 1088.4 h-5 M87.4 1088.4 v7.5 M175 1088.4 v7.5 M262.5 1088.4 v7.5 M350.1 1088.4 v7.5 M437.7 1088.4 v7.5 M525.2 1088.4 v7.5 M612.8 1088.4 v7.5 M131.2 1088.4 v5 M218.8 1088.4 v5 M306.3 1088.4 v5 M393.9 1088.4 v5 M481.4 1088.4 v5 M569 1088.4 v5" stroke="#000" stroke-width="2.8" fill="none"/>
<path d="M87.4 879.3 H612.8" stroke="#000" stroke-width="2.6" fill="none"/>
<polyline points="89.2,919.3 96.3,916.1 98.2,839.1 103.7,855.2 110.1,832.7 117.5,855.2 121.3,831.1 125.2,803.9 127.7,848.8 130.3,908.1 133.5,968.4 135.7,901.7 138,868 142.2,853.6 147,882.4 152.7,906.5 156.6,887.2 158.2,908.1 163,943.4 166.9,950.4 172.6,863.2 177.4,819.9 180.6,853.6 182.3,901.7 187.1,906.5 190.3,860 196.7,868 198.3,911.3 202.1,958.8 206.3,911.3 209.5,847.2 215,799 219.1,768.6 222.3,824.7 223.9,919.3 228.1,1044.4 230.4,986.7 233.6,911.3 236.8,909.7 240,949.1 244.8,911.3 246.4,858.4 251.2,800.6 255.4,722.1 259.2,731.7 264,792.6 268.8,847.2 272.1,895.3 276.9,946.6 281.7,916.1 286.5,847.2 289.7,842.3 291.3,869.6 297.1,938.6 300.9,900.1 307.3,882.4 313.7,853.6 321.8,821.5 325,856.8 326.6,911.3 331.4,962.6 334.6,920.9 339.4,978.6 343.2,920.9 347.1,895.3 350.3,917.7 354.4,860 359.2,879.2 362.5,856.8 367.3,821.5 372.1,831.1 376.9,863.2 379.1,892.1 386.5,884 394.5,891.4 399.3,866.4 404.1,808.7 408,803.9 412.2,811.9 414.4,839.1 418.6,803.9 421.8,805.5 424,843.9 427.2,888.8 429.8,920.9 433.6,997.9 436.9,1002.7 439.4,911.3 443.3,850.4 445.2,824.7 447.4,869.6 448.4,943.4 453.9,981.9 457.1,933.7 465.1,898.5 468.9,850.4 474.1,895.3 477.9,821.5 481.1,757.4 483.7,754.1 485.9,800.6 487.5,882.4 490.1,973.8 493.3,962.6 497.2,895.3 498.8,831.1 502,787.8 504.5,786.2 506.8,818.3 510,860 510.9,911.3 514.8,879.2 515.8,840.7 519,803.9 522.8,831.1 527.6,864.8 532.4,853.6 537.2,840.7 542.1,802.3 545.3,799 546.9,837.5 549.1,882.4 554.2,835.9 557.4,832.7 558.7,888.8 561.9,953 565.5,961 568.4,869.6 571.6,824.7 574.8,824.7 576.7,850.4 578.9,884 582.8,951.4 586.3,957.8 590.2,927.3 595,853.6 598.2,839.1 601.4,856.8 603.6,888.8 609.4,917.7 612.6,924.1" fill="none" stroke="#000" stroke-width="2.1" stroke-linejoin="miter" stroke-miterlimit="3"/>
<text class="san" transform="translate(70.4 888.7) scale(0.5 0.5)" font-size="60" text-anchor="end" stroke-width="1.9">0</text>
<text class="san" transform="translate(70.4 707.1) scale(0.5 0.5)" font-size="60" text-anchor="end" stroke-width="1.9">3</text>
<text class="san" transform="translate(70.4 768.7) scale(0.5 0.5)" font-size="60" text-anchor="end" stroke-width="1.9">2</text>
<text class="san" transform="translate(70.4 827.6) scale(0.5 0.5)" font-size="60" text-anchor="end" stroke-width="1.9">1</text>
<path d="M54.805 824.284H60.639V829.475H54.805Z M64.54 824.284H70.14V829.475H64.54Z" fill="#fff"/>
<text class="san" transform="translate(70.4 948.3) scale(0.5 0.5)" font-size="60" text-anchor="end" stroke-width="1.9">-1</text>
<path d="M54.805 944.984H60.639V950.175H54.805Z M64.54 944.984H70.14V950.175H64.54Z" fill="#fff"/>
<text class="san" transform="translate(70.4 1008.5) scale(0.5 0.5)" font-size="60" text-anchor="end" stroke-width="1.9">-2</text>
<text class="san" transform="translate(70.4 1068.1) scale(0.5 0.5)" font-size="60" text-anchor="end" stroke-width="1.9">-3</text>
<text class="san" transform="translate(87.4 1126.2) scale(0.5 0.5)" font-size="60" text-anchor="middle" stroke-width="1.9">0.0</text>
<text class="san" transform="translate(175 1126.2) scale(0.5 0.5)" font-size="60" text-anchor="middle" stroke-width="1.9">0.5</text>
<text class="san" transform="translate(262.5 1126.2) scale(0.5 0.5)" font-size="60" text-anchor="middle" stroke-width="1.9">1.0</text>
<path d="M242.768 1122.884H248.602V1128.075H242.768Z M252.504 1122.884H258.103V1128.075H252.504Z" fill="#fff"/>
<text class="san" transform="translate(350.1 1126.2) scale(0.5 0.5)" font-size="60" text-anchor="middle" stroke-width="1.9">1.5</text>
<path d="M330.335 1122.884H336.169V1128.075H330.335Z M340.07 1122.884H345.67V1128.075H340.07Z" fill="#fff"/>
<text class="san" transform="translate(437.7 1126.2) scale(0.5 0.5)" font-size="60" text-anchor="middle" stroke-width="1.9">2.0</text>
<text class="san" transform="translate(525.2 1126.2) scale(0.5 0.5)" font-size="60" text-anchor="middle" stroke-width="1.9">2.5</text>
<text class="san" transform="translate(612.8 1126.2) scale(0.5 0.5)" font-size="60" text-anchor="middle" stroke-width="1.9">3.0</text>
<text class="san" transform="translate(347.8 1163.8) scale(0.5 0.5)" font-size="60" text-anchor="middle" stroke-width="1.9" textLength="191" lengthAdjust="spacing">X (µm)</text>
<text class="san" transform="translate(30.4 917) rotate(-90) scale(0.5 0.5)" font-size="60" text-anchor="start" stroke-width="1.9" font-weight="bold" textLength="190" lengthAdjust="spacing">Z (nm)</text>
<rect x="739" y="674.5" width="516.2" height="413.9" fill="#fff" stroke="#000" stroke-width="3"/>
<path d="M739 879.3 h-7.5 M739 674.5 h-7.5 M739 744.5 h-7.5 M739 812.2 h-7.5 M739 950 h-7.5 M739 1017.9 h-7.5 M739 1088.4 h-7.5 M739 777.3 h-5 M739 986.1 h-5 M739 1088.4 v7.5 M825 1088.4 v7.5 M911.1 1088.4 v7.5 M997.1 1088.4 v7.5 M1083.1 1088.4 v7.5 M1169.2 1088.4 v7.5 M1255.2 1088.4 v7.5 M954.1 1088.4 v5 M1212.2 1088.4 v5" stroke="#000" stroke-width="2.8" fill="none"/>
<path d="M739 879.3 H1255.2" stroke="#000" stroke-width="2.6" fill="none"/>
<polyline points="738.7,881.3 746.7,883.2 754.7,885.3 760,897.3 769.3,894.7 777.3,884 785.3,882.7 791.5,865.3 794.7,877.3 800,860 805.3,855.5 812,855.5 817.3,852.8 822.7,861.3 824.5,853.3 828,877.3 830.7,890.7 837.3,896 840,900 844,886.7 850.7,890.7 857.3,900.8 865.3,892 870.7,890.7 880,881.3 889.3,868 896.5,860 902.7,870.7 909.3,865.3 916,874.7 925.3,888 933.3,908 941.3,921.3 948,898.7 954.7,885.3 961.3,877.3 966.7,862.7 969.3,859.2 973.3,866.7 976,881.3 982.7,897.3 985.3,889.3 992,885.3 994.7,888 1005.3,877.3 1013.3,877.3 1018.7,874.1 1022.7,877.3 1030.7,876 1036,861.3 1040,858.7 1044,862.7 1048,877.3 1050.7,893.3 1054.7,898.7 1058.7,880 1061.3,866.7 1065.3,877.3 1069.3,870.7 1073.3,882.7 1080,880 1089.3,883.2 1096,876.8 1104,877.3 1110.7,877.3 1117.3,886.7 1123.2,914.7 1126.7,896 1134.7,886.7 1137.3,900 1142.7,885.3 1146.7,888 1157.3,880 1162.7,862.7 1170.7,876 1178.7,856.5 1182.7,878.7 1192,868 1198.7,872 1204,882.7 1209.3,881.3 1214.7,906.7 1220,917.9 1229.3,905.3 1234.7,870.7 1246.7,864.5 1254.7,874.7" fill="none" stroke="#000" stroke-width="2.1" stroke-linejoin="miter" stroke-miterlimit="3"/>
<text class="san" transform="translate(723.5 887.6) scale(0.5 0.5)" font-size="60" text-anchor="end" stroke-width="1.9">0</text>
<text class="san" transform="translate(723.5 682.8) scale(0.5 0.5)" font-size="60" text-anchor="end" stroke-width="1.9">3</text>
<text class="san" transform="translate(723.5 752.8) scale(0.5 0.5)" font-size="60" text-anchor="end" stroke-width="1.9">2</text>
<text class="san" transform="translate(723.5 820.5) scale(0.5 0.5)" font-size="60" text-anchor="end" stroke-width="1.9">1</text>
<path d="M707.905 817.184H713.739V822.375H707.905Z M717.64 817.184H723.24V822.375H717.64Z" fill="#fff"/>
<text class="san" transform="translate(723.5 958.3) scale(0.5 0.5)" font-size="60" text-anchor="end" stroke-width="1.9">-1</text>
<path d="M707.905 954.984H713.739V960.175H707.905Z M717.64 954.984H723.24V960.175H717.64Z" fill="#fff"/>
<text class="san" transform="translate(723.5 1026.2) scale(0.5 0.5)" font-size="60" text-anchor="end" stroke-width="1.9">-2</text>
<text class="san" transform="translate(723.5 1096.7) scale(0.5 0.5)" font-size="60" text-anchor="end" stroke-width="1.9">-3</text>
<text class="san" transform="translate(739 1126.2) scale(0.5 0.5)" font-size="60" text-anchor="middle" stroke-width="1.9">0.0</text>
<text class="san" transform="translate(825 1126.2) scale(0.5 0.5)" font-size="60" text-anchor="middle" stroke-width="1.9">0.5</text>
<text class="san" transform="translate(911.1 1126.2) scale(0.5 0.5)" font-size="60" text-anchor="middle" stroke-width="1.9">1.0</text>
<path d="M891.302 1122.884H897.136V1128.075H891.302Z M901.037 1122.884H906.636V1128.075H901.037Z" fill="#fff"/>
<text class="san" transform="translate(997.1 1126.2) scale(0.5 0.5)" font-size="60" text-anchor="middle" stroke-width="1.9">1.5</text>
<path d="M977.335 1122.884H983.169V1128.075H977.335Z M987.07 1122.884H992.67V1128.075H987.07Z" fill="#fff"/>
<text class="san" transform="translate(1083.1 1126.2) scale(0.5 0.5)" font-size="60" text-anchor="middle" stroke-width="1.9">2.0</text>
<text class="san" transform="translate(1169.2 1126.2) scale(0.5 0.5)" font-size="60" text-anchor="middle" stroke-width="1.9">2.5</text>
<text class="san" transform="translate(1255.2 1126.2) scale(0.5 0.5)" font-size="60" text-anchor="middle" stroke-width="1.9">3.0</text>
<text class="san" transform="translate(986.2 1172.4) scale(0.5 0.5)" font-size="60" text-anchor="middle" stroke-width="1.9" textLength="186" lengthAdjust="spacing">X (µm)</text>
<text class="san" transform="translate(670.4 913.7) rotate(-90) scale(0.31 0.5)" font-size="60" text-anchor="start" stroke-width="1.9" font-weight="bold">Z</text>
<text class="san" transform="translate(670.4 894) rotate(-90) scale(0.5 0.5)" font-size="60" text-anchor="start" stroke-width="1.9" x="0 22 68 120">(nm)</text>
<rect x="1381.4" y="671.5" width="516.4" height="416.9" fill="#fff" stroke="#000" stroke-width="3"/>
<path d="M1381.4 879.3 h-7.5 M1381.4 671.5 h-7.5 M1381.4 741.3 h-7.5 M1381.4 809.1 h-7.5 M1381.4 950 h-7.5 M1381.4 1017.9 h-7.5 M1381.4 1088.4 h-7.5 M1381.4 706.4 h-5 M1381.4 777.3 h-5 M1381.4 844.7 h-5 M1381.4 915 h-5 M1381.4 982.2 h-5 M1381.4 1052.8 h-5 M1381.4 1088.4 v7.5 M1467.5 1088.4 v7.5 M1553.5 1088.4 v7.5 M1639.6 1088.4 v7.5 M1725.7 1088.4 v7.5 M1811.7 1088.4 v7.5 M1897.8 1088.4 v7.5 M1424.4 1088.4 v5 M1682.6 1088.4 v5" stroke="#000" stroke-width="2.8" fill="none"/>
<path d="M1381.4 879.3 H1897.8" stroke="#000" stroke-width="2.6" fill="none"/>
<polyline points="1382.8,881.3 1383.6,895.6 1387.8,889.7 1388.7,879.6 1390.4,859.3 1393.8,855.9 1394.6,842.4 1398,845.8 1400.5,866.1 1403,869.5 1404.7,883 1408.1,872 1410.6,869.5 1413.7,885.5 1416.5,867.8 1419.1,857.6 1422.4,853.4 1423.8,869.5 1425.8,872.8 1426.7,886.3 1430,898.1 1432.6,911.6 1434.3,918.4 1436.8,901.5 1442.7,894.8 1445.2,879.6 1446.1,867.8 1447.8,888 1448.6,906.6 1452,904.9 1455.4,893.9 1457.9,915 1460.4,904.9 1462.1,881.3 1465.5,868.6 1468,879.6 1469.7,904.1 1472.2,904.1 1475.6,900.7 1476.5,879.6 1478.1,865.2 1484.1,865.2 1490,873.7 1495,873.7 1495.9,859.3 1498.4,857.6 1499.2,844.1 1500.9,862.7 1502.6,891.4 1505.1,911.6 1507.7,918.4 1510.2,901.5 1517,900.7 1519.5,889.7 1522,877.9 1527.1,877.9 1530.5,888 1533.8,904.9 1535.5,920.1 1538.9,911.6 1542.3,896.5 1544,888 1549,879.6 1550.7,861 1554.9,854.3 1558.3,855.9 1560,871.1 1563.4,879.6 1565.1,864.4 1569.3,859.3 1570.1,893.1 1572.3,912.5 1573.5,898.1 1576,896.5 1575.2,872.8 1579.4,861 1582.8,854.3 1586.2,859.3 1591.2,869.5 1599.7,874.5 1601.4,877.9 1604.7,865.2 1607.3,874.5 1609.8,881.3 1615.7,894.8 1618.2,884.6 1620,871.1 1622.5,854.3 1625.1,841.6 1626.8,879.6 1631,879.6 1631,857.6 1636.9,850 1640.3,859.3 1641.9,867.8 1643.6,888 1645.3,904.1 1650.4,902.4 1652.1,889.7 1654.6,873.7 1656.3,894.8 1658.8,884.6 1660.5,874.5 1665.6,868.6 1668.9,882.1 1672.3,854.3 1678.2,847.5 1679.1,864.4 1680.8,867.8 1681.6,893.1 1685.8,894.8 1687.5,891.4 1689.2,906.6 1690.9,915 1694.3,920.9 1695.9,899.8 1699.3,896.5 1700.2,864.4 1704.4,862.7 1710.3,857.6 1712.8,871.1 1716.2,871.1 1717,850.9 1718.7,839.1 1723,845.8 1725.5,871.1 1728,877.9 1728,904.9 1731.4,906.6 1731.4,923.5 1734.8,918.4 1737.3,913.3 1739,879.6 1739.8,855.9 1743.2,847.5 1745.7,829.8 1748.3,834 1750,866.1 1751.6,869.5 1751.6,894.8 1755,898.1 1755,910 1758.4,913.3 1760.1,921.8 1763.5,932.7 1765.1,920.1 1766.8,881.3 1768.5,862.7 1771.9,853.4 1773.6,862.7 1777,871.1 1780.3,877.9 1781.2,894.8 1783.7,906.6 1786.2,874.5 1787.9,865.2 1791.3,871.1 1792.2,898.1 1795.5,901.5 1794.7,927.7 1797.2,915 1798.9,898.1 1800.6,920.1 1804,918.4 1804.8,901.5 1807.3,900.7 1807.3,873.7 1810.7,877.9 1815.8,877.9 1820,862.7 1822.5,874.5 1824.2,886.3 1826.8,877 1829.3,867.8 1832.7,870.3 1834.3,889.7 1836,904.1 1838.6,888 1839.4,871.1 1842.8,872 1847.8,877.9 1851.2,888 1857.1,897.3 1859.7,886.3 1863,898.1 1865.6,912.5 1866.4,903.2 1868.1,896.5 1870.6,883 1873.2,899.8 1874,873.7 1876.5,872.8 1877.4,847.5 1880.4,829.8 1883.3,839.1 1885,881.3 1887.5,872 1890,865.2 1892.6,864.4" fill="none" stroke="#000" stroke-width="2.1" stroke-linejoin="miter" stroke-miterlimit="3"/>
<text class="san" transform="translate(1364.4 887.6) scale(0.5 0.5)" font-size="60" text-anchor="end" stroke-width="1.9">0</text>
<text class="san" transform="translate(1364.4 679.8) scale(0.5 0.5)" font-size="60" text-anchor="end" stroke-width="1.9">3</text>
<text class="san" transform="translate(1364.4 749.6) scale(0.5 0.5)" font-size="60" text-anchor="end" stroke-width="1.9">2</text>
<text class="san" transform="translate(1364.4 817.4) scale(0.5 0.5)" font-size="60" text-anchor="end" stroke-width="1.9">1</text>
<path d="M1348.805 814.084H1354.639V819.275H1348.805Z M1358.54 814.084H1364.14V819.275H1358.54Z" fill="#fff"/>
<text class="san" transform="translate(1364.4 958.3) scale(0.5 0.5)" font-size="60" text-anchor="end" stroke-width="1.9">-1</text>
<path d="M1348.805 954.984H1354.639V960.175H1348.805Z M1358.54 954.984H1364.14V960.175H1358.54Z" fill="#fff"/>
<text class="san" transform="translate(1364.4 1026.2) scale(0.5 0.5)" font-size="60" text-anchor="end" stroke-width="1.9">-2</text>
<text class="san" transform="translate(1364.4 1096.7) scale(0.5 0.5)" font-size="60" text-anchor="end" stroke-width="1.9">-3</text>
<text class="san" transform="translate(1381.4 1126.2) scale(0.5 0.5)" font-size="60" text-anchor="middle" stroke-width="1.9">0.0</text>
<text class="san" transform="translate(1467.5 1126.2) scale(0.5 0.5)" font-size="60" text-anchor="middle" stroke-width="1.9">0.5</text>
<text class="san" transform="translate(1553.5 1126.2) scale(0.5 0.5)" font-size="60" text-anchor="middle" stroke-width="1.9">1.0</text>
<path d="M1533.768 1122.884H1539.602V1128.075H1533.768Z M1543.504 1122.884H1549.103V1128.075H1543.504Z" fill="#fff"/>
<text class="san" transform="translate(1639.6 1126.2) scale(0.5 0.5)" font-size="60" text-anchor="middle" stroke-width="1.9">1.5</text>
<path d="M1619.835 1122.884H1625.669V1128.075H1619.835Z M1629.57 1122.884H1635.17V1128.075H1629.57Z" fill="#fff"/>
<text class="san" transform="translate(1725.7 1126.2) scale(0.5 0.5)" font-size="60" text-anchor="middle" stroke-width="1.9">2.0</text>
<text class="san" transform="translate(1811.7 1126.2) scale(0.5 0.5)" font-size="60" text-anchor="middle" stroke-width="1.9">2.5</text>
<text class="san" transform="translate(1897.8 1126.2) scale(0.5 0.5)" font-size="60" text-anchor="middle" stroke-width="1.9">3.0</text>
<text class="san" transform="translate(1636 1166.2) scale(0.5 0.5)" font-size="60" text-anchor="middle" stroke-width="1.9" textLength="182" lengthAdjust="spacing">X (µm)</text>
<text class="san" transform="translate(1313 913.7) rotate(-90) scale(0.31 0.5)" font-size="60" text-anchor="start" stroke-width="1.9" font-weight="bold">Z</text>
<text class="san" transform="translate(1313 894) rotate(-90) scale(0.5 0.5)" font-size="60" text-anchor="start" stroke-width="1.9" x="0 22 68 120">(nm)</text>
</svg>
</body></html>
